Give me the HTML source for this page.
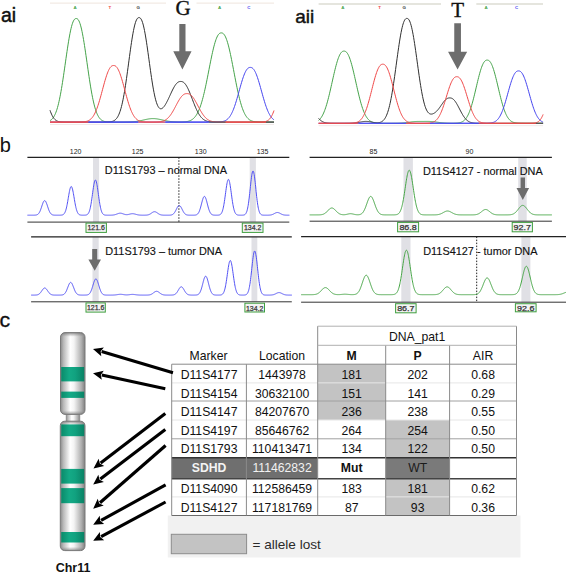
<!DOCTYPE html>
<html><head><meta charset="utf-8"><style>
html,body{margin:0;padding:0;background:#fff;}
svg{display:block;}
</style></head><body>
<svg width="566" height="573" viewBox="0 0 566 573">
<line x1="50" y1="3.1" x2="166" y2="3.1" stroke="#efe5dd" stroke-width="1"/>
<line x1="196.5" y1="3.1" x2="274" y2="3.1" stroke="#efe5dd" stroke-width="1"/>
<text x="75.1" y="8.6" font-size="4.4" font-weight="bold" fill="#45a34a" text-anchor="middle" font-family='"Liberation Sans", sans-serif'>A</text>
<text x="109.8" y="8.6" font-size="4.4" font-weight="bold" fill="#f04848" text-anchor="middle" font-family='"Liberation Sans", sans-serif'>T</text>
<text x="138.2" y="8.6" font-size="4.4" font-weight="bold" fill="#303030" text-anchor="middle" font-family='"Liberation Sans", sans-serif'>G</text>
<text x="219.7" y="8.6" font-size="4.4" font-weight="bold" fill="#45a34a" text-anchor="middle" font-family='"Liberation Sans", sans-serif'>A</text>
<text x="248.9" y="8.6" font-size="4.4" font-weight="bold" fill="#4444f0" text-anchor="middle" font-family='"Liberation Sans", sans-serif'>C</text>
<line x1="50" y1="124.5" x2="274" y2="124.5" stroke="#f1e9e9" stroke-width="1"/>
<path d="M50.0,120.63 L50.5,120.34 L51.0,119.99 L51.5,119.58 L52.0,119.11 L52.5,118.57 L53.0,117.96 L53.5,117.25 L54.0,116.45 L54.5,115.54 L55.0,114.53 L55.5,113.39 L56.0,112.13 L56.5,110.73 L57.0,109.19 L57.5,107.51 L58.0,105.68 L58.5,103.69 L59.0,101.54 L59.5,99.24 L60.0,96.78 L60.5,94.18 L61.0,91.42 L61.5,88.53 L62.0,85.51 L62.5,82.37 L63.0,79.12 L63.5,75.78 L64.0,72.37 L64.5,68.91 L65.0,65.41 L65.5,61.90 L66.0,58.39 L66.5,54.92 L67.0,51.50 L67.5,48.16 L68.0,44.92 L68.5,41.79 L69.0,38.81 L69.5,35.99 L70.0,33.35 L70.5,30.90 L71.0,28.66 L71.5,26.64 L72.0,24.84 L72.5,23.28 L73.0,21.94 L73.5,20.84 L74.0,19.97 L74.5,19.31 L75.0,18.87 L75.5,18.61 L76.0,18.51 L76.5,18.52 L77.0,18.64 L77.5,18.94 L78.0,19.43 L78.5,20.13 L79.0,21.04 L79.5,22.19 L80.0,23.57 L80.5,25.18 L81.0,27.03 L81.5,29.09 L82.0,31.38 L82.5,33.86 L83.0,36.54 L83.5,39.40 L84.0,42.41 L84.5,45.55 L85.0,48.82 L85.5,52.18 L86.0,55.61 L86.5,59.09 L87.0,62.60 L87.5,66.11 L88.0,69.61 L88.5,73.06 L89.0,76.46 L89.5,79.78 L90.0,83.00 L90.5,86.12 L91.0,89.12 L91.5,91.99 L92.0,94.71 L92.5,97.29 L93.0,99.71 L93.5,101.98 L94.0,104.10 L94.5,106.05 L95.0,107.86 L95.5,109.51 L96.0,111.02 L96.5,112.39 L97.0,113.63 L97.5,114.74 L98.0,115.73 L98.5,116.62 L99.0,117.40 L99.5,118.09 L100.0,118.69 L100.5,119.21 L101.0,119.67 L101.5,120.06 L102.0,120.40 L102.5,120.69 L103.0,120.93 L103.5,121.14 L104.0,121.31 L104.5,121.46 L105.0,121.58 L105.5,121.68 L106.0,121.76 L106.5,121.83 L107.0,121.88 L107.5,121.93 L108.0,121.97 L108.5,121.99 L109.0,122.02 L109.5,122.04 L110.0,122.05 L110.5,122.06 L111.0,122.07 L111.5,122.08 L112.0,122.08 L112.5,122.09 L113.0,122.09 L113.5,122.09 L114.0,122.09 L114.5,122.10 L115.0,122.10 L115.5,122.10 L116.0,122.10 L116.5,122.10 L117.0,122.10 L117.5,122.10 L118.0,122.10 L118.5,122.10 L119.0,122.10 L119.5,122.09 L120.0,122.09 L120.5,122.09 L121.0,122.09 L121.5,122.09 L122.0,122.09 L122.5,122.08 L123.0,122.08 L123.5,122.08 L124.0,122.07 L124.5,122.07 L125.0,122.06 L125.5,122.05 L126.0,122.05 L126.5,122.04 L127.0,122.03 L127.5,122.02 L128.0,122.00 L128.5,121.99 L129.0,121.97 L129.5,121.95 L130.0,121.93 L130.5,121.91 L131.0,121.88 L131.5,121.85 L132.0,121.82 L132.5,121.78 L133.0,121.75 L133.5,121.70 L134.0,121.66 L134.5,121.61 L135.0,121.55 L135.5,121.49 L136.0,121.43 L136.5,121.36 L137.0,121.29 L137.5,121.22 L138.0,121.14 L138.5,121.05 L139.0,120.96 L139.5,120.87 L140.0,120.77 L140.5,120.67 L141.0,120.57 L141.5,120.46 L142.0,120.35 L142.5,120.24 L143.0,120.13 L143.5,120.01 L144.0,119.90 L144.5,119.79 L145.0,119.67 L145.5,119.56 L146.0,119.46 L146.5,119.35 L147.0,119.25 L147.5,119.16 L148.0,119.07 L148.5,118.98 L149.0,118.91 L149.5,118.84 L150.0,118.78 L150.5,118.72 L151.0,118.68 L151.5,118.64 L152.0,118.62 L152.5,118.61 L153.0,118.60 L153.5,118.61 L154.0,118.62 L154.5,118.64 L155.0,118.68 L155.5,118.72 L156.0,118.78 L156.5,118.84 L157.0,118.91 L157.5,118.98 L158.0,119.07 L158.5,119.16 L159.0,119.25 L159.5,119.35 L160.0,119.46 L160.5,119.56 L161.0,119.67 L161.5,119.79 L162.0,119.90 L162.5,120.01 L163.0,120.13 L163.5,120.24 L164.0,120.35 L164.5,120.46 L165.0,120.57 L165.5,120.67 L166.0,120.77 L166.5,120.87 L167.0,120.96 L167.5,121.05 L168.0,121.14 L168.5,121.22 L169.0,121.29 L169.5,121.36 L170.0,121.43 L170.5,121.49 L171.0,121.55 L171.5,121.61 L172.0,121.66 L172.5,121.70 L173.0,121.75 L173.5,121.78 L174.0,121.82 L174.5,121.85 L175.0,121.88 L175.5,121.90 L176.0,121.93 L176.5,121.95 L177.0,121.96 L177.5,121.98 L178.0,121.99 L178.5,122.00 L179.0,122.01 L179.5,122.01 L180.0,122.01 L180.5,122.01 L181.0,122.01 L181.5,122.00 L182.0,121.99 L182.5,121.97 L183.0,121.95 L183.5,121.93 L184.0,121.90 L184.5,121.86 L185.0,121.82 L185.5,121.77 L186.0,121.70 L186.5,121.63 L187.0,121.55 L187.5,121.45 L188.0,121.34 L188.5,121.20 L189.0,121.06 L189.5,120.89 L190.0,120.69 L190.5,120.47 L191.0,120.23 L191.5,119.95 L192.0,119.64 L192.5,119.29 L193.0,118.90 L193.5,118.47 L194.0,117.99 L194.5,117.47 L195.0,116.89 L195.5,116.25 L196.0,115.55 L196.5,114.79 L197.0,113.96 L197.5,113.05 L198.0,112.07 L198.5,111.01 L199.0,109.87 L199.5,108.64 L200.0,107.33 L200.5,105.92 L201.0,104.42 L201.5,102.83 L202.0,101.15 L202.5,99.37 L203.0,97.50 L203.5,95.54 L204.0,93.49 L204.5,91.36 L205.0,89.15 L205.5,86.87 L206.0,84.52 L206.5,82.11 L207.0,79.65 L207.5,77.15 L208.0,74.62 L208.5,72.06 L209.0,69.50 L209.5,66.94 L210.0,64.40 L210.5,61.89 L211.0,59.41 L211.5,57.00 L212.0,54.64 L212.5,52.37 L213.0,50.18 L213.5,48.09 L214.0,46.12 L214.5,44.27 L215.0,42.54 L215.5,40.95 L216.0,39.49 L216.5,38.19 L217.0,37.03 L217.5,36.02 L218.0,35.16 L218.5,34.45 L219.0,33.88 L219.5,33.45 L220.0,33.15 L220.5,32.97 L221.0,32.90 L221.5,32.89 L222.0,32.96 L222.5,33.12 L223.0,33.40 L223.5,33.81 L224.0,34.36 L224.5,35.05 L225.0,35.89 L225.5,36.88 L226.0,38.02 L226.5,39.32 L227.0,40.76 L227.5,42.34 L228.0,44.07 L228.5,45.92 L229.0,47.91 L229.5,50.00 L230.0,52.21 L230.5,54.51 L231.0,56.89 L231.5,59.35 L232.0,61.86 L232.5,64.43 L233.0,67.02 L233.5,69.64 L234.0,72.27 L234.5,74.89 L235.0,77.50 L235.5,80.08 L236.0,82.62 L236.5,85.11 L237.0,87.54 L237.5,89.91 L238.0,92.20 L238.5,94.41 L239.0,96.53 L239.5,98.56 L240.0,100.49 L240.5,102.33 L241.0,104.06 L241.5,105.69 L242.0,107.22 L242.5,108.65 L243.0,109.98 L243.5,111.22 L244.0,112.36 L244.5,113.40 L245.0,114.36 L245.5,115.24 L246.0,116.04 L246.5,116.76 L247.0,117.41 L247.5,118.00 L248.0,118.52 L248.5,118.99 L249.0,119.41 L249.5,119.77 L250.0,120.10 L250.5,120.38 L251.0,120.63 L251.5,120.85 L252.0,121.04 L252.5,121.20 L253.0,121.35 L253.5,121.47 L254.0,121.57 L254.5,121.66 L255.0,121.73 L255.5,121.80 L256.0,121.85 L256.5,121.89 L257.0,121.93 L257.5,121.96 L258.0,121.99 L258.5,122.01 L259.0,122.03 L259.5,122.04 L260.0,122.05 L260.5,122.06 L261.0,122.07 L261.5,122.08 L262.0,122.08 L262.5,122.09 L263.0,122.09 L263.5,122.09 L264.0,122.09 L264.5,122.09 L265.0,122.10 L265.5,122.10 L266.0,122.10 L266.5,122.10 L267.0,122.10 L267.5,122.10 L268.0,122.10 L268.5,122.10 L269.0,122.10 L269.5,122.10 L270.0,122.10 L270.5,122.10 L271.0,122.10 L271.5,122.10 L272.0,122.10 L272.5,122.10 L273.0,122.10 L273.5,122.10 L274.0,122.10" fill="none" stroke="#45a34a" stroke-width="1"/>
<path d="M50.0,110.26 L50.5,111.66 L51.0,112.96 L51.5,114.14 L52.0,115.22 L52.5,116.18 L53.0,117.04 L53.5,117.80 L54.0,118.47 L54.5,119.06 L55.0,119.56 L55.5,120.00 L56.0,120.37 L56.5,120.68 L57.0,120.95 L57.5,121.17 L58.0,121.35 L58.5,121.50 L59.0,121.63 L59.5,121.73 L60.0,121.81 L60.5,121.87 L61.0,121.92 L61.5,121.96 L62.0,122.00 L62.5,122.02 L63.0,122.04 L63.5,122.06 L64.0,122.07 L64.5,122.08 L65.0,122.08 L65.5,122.09 L66.0,122.09 L66.5,122.09 L67.0,122.09 L67.5,122.10 L68.0,122.10 L68.5,122.10 L69.0,122.10 L69.5,122.10 L70.0,122.10 L70.5,122.10 L71.0,122.10 L71.5,122.10 L72.0,122.10 L72.5,122.10 L73.0,122.10 L73.5,122.10 L74.0,122.10 L74.5,122.10 L75.0,122.10 L75.5,122.10 L76.0,122.10 L76.5,122.10 L77.0,122.10 L77.5,122.10 L78.0,122.10 L78.5,122.10 L79.0,122.10 L79.5,122.10 L80.0,122.10 L80.5,122.10 L81.0,122.10 L81.5,122.10 L82.0,122.10 L82.5,122.10 L83.0,122.10 L83.5,122.10 L84.0,122.10 L84.5,122.10 L85.0,122.10 L85.5,122.10 L86.0,122.10 L86.5,122.10 L87.0,122.10 L87.5,122.10 L88.0,122.10 L88.5,122.10 L89.0,122.10 L89.5,122.10 L90.0,122.10 L90.5,122.10 L91.0,122.10 L91.5,122.10 L92.0,122.10 L92.5,122.10 L93.0,122.10 L93.5,122.10 L94.0,122.10 L94.5,122.10 L95.0,122.10 L95.5,122.10 L96.0,122.10 L96.5,122.10 L97.0,122.10 L97.5,122.10 L98.0,122.10 L98.5,122.10 L99.0,122.10 L99.5,122.10 L100.0,122.10 L100.5,122.10 L101.0,122.10 L101.5,122.10 L102.0,122.10 L102.5,122.10 L103.0,122.10 L103.5,122.09 L104.0,122.09 L104.5,122.09 L105.0,122.08 L105.5,122.08 L106.0,122.07 L106.5,122.06 L107.0,122.05 L107.5,122.03 L108.0,122.01 L108.5,121.98 L109.0,121.95 L109.5,121.91 L110.0,121.86 L110.5,121.79 L111.0,121.71 L111.5,121.61 L112.0,121.49 L112.5,121.34 L113.0,121.16 L113.5,120.95 L114.0,120.69 L114.5,120.39 L115.0,120.03 L115.5,119.60 L116.0,119.11 L116.5,118.54 L117.0,117.88 L117.5,117.12 L118.0,116.25 L118.5,115.27 L119.0,114.16 L119.5,112.91 L120.0,111.52 L120.5,109.98 L121.0,108.27 L121.5,106.40 L122.0,104.36 L122.5,102.14 L123.0,99.75 L123.5,97.19 L124.0,94.45 L124.5,91.55 L125.0,88.50 L125.5,85.29 L126.0,81.96 L126.5,78.51 L127.0,74.95 L127.5,71.32 L128.0,67.63 L128.5,63.91 L129.0,60.18 L129.5,56.46 L130.0,52.80 L130.5,49.20 L131.0,45.70 L131.5,42.33 L132.0,39.10 L132.5,36.05 L133.0,33.20 L133.5,30.55 L134.0,28.13 L134.5,25.96 L135.0,24.04 L135.5,22.38 L136.0,20.97 L136.5,19.83 L137.0,18.94 L137.5,18.29 L138.0,17.87 L138.5,17.65 L139.0,17.60 L139.5,17.65 L140.0,17.87 L140.5,18.29 L141.0,18.94 L141.5,19.82 L142.0,20.96 L142.5,22.36 L143.0,24.02 L143.5,25.94 L144.0,28.10 L144.5,30.51 L145.0,33.14 L145.5,35.98 L146.0,39.01 L146.5,42.21 L147.0,45.56 L147.5,49.02 L148.0,52.57 L148.5,56.18 L149.0,59.83 L149.5,63.49 L150.0,67.12 L150.5,70.70 L151.0,74.21 L151.5,77.62 L152.0,80.91 L152.5,84.06 L153.0,87.05 L153.5,89.87 L154.0,92.51 L154.5,94.94 L155.0,97.18 L155.5,99.21 L156.0,101.04 L156.5,102.65 L157.0,104.06 L157.5,105.27 L158.0,106.29 L158.5,107.12 L159.0,107.76 L159.5,108.25 L160.0,108.57 L160.5,108.74 L161.0,108.77 L161.5,108.68 L162.0,108.46 L162.5,108.14 L163.0,107.72 L163.5,107.20 L164.0,106.61 L164.5,105.94 L165.0,105.19 L165.5,104.39 L166.0,103.53 L166.5,102.63 L167.0,101.67 L167.5,100.68 L168.0,99.66 L168.5,98.61 L169.0,97.54 L169.5,96.46 L170.0,95.37 L170.5,94.27 L171.0,93.19 L171.5,92.11 L172.0,91.06 L172.5,90.03 L173.0,89.04 L173.5,88.09 L174.0,87.18 L174.5,86.33 L175.0,85.54 L175.5,84.81 L176.0,84.15 L176.5,83.56 L177.0,83.04 L177.5,82.60 L178.0,82.23 L178.5,81.94 L179.0,81.72 L179.5,81.57 L180.0,81.49 L180.5,81.46 L181.0,81.46 L181.5,81.51 L182.0,81.61 L182.5,81.77 L183.0,82.00 L183.5,82.31 L184.0,82.70 L184.5,83.17 L185.0,83.72 L185.5,84.36 L186.0,85.07 L186.5,85.87 L187.0,86.74 L187.5,87.68 L188.0,88.69 L188.5,89.76 L189.0,90.88 L189.5,92.06 L190.0,93.27 L190.5,94.52 L191.0,95.80 L191.5,97.10 L192.0,98.40 L192.5,99.71 L193.0,101.02 L193.5,102.32 L194.0,103.59 L194.5,104.85 L195.0,106.07 L195.5,107.26 L196.0,108.41 L196.5,109.51 L197.0,110.57 L197.5,111.57 L198.0,112.52 L198.5,113.42 L199.0,114.26 L199.5,115.05 L200.0,115.78 L200.5,116.46 L201.0,117.08 L201.5,117.65 L202.0,118.17 L202.5,118.65 L203.0,119.08 L203.5,119.46 L204.0,119.81 L204.5,120.12 L205.0,120.39 L205.5,120.63 L206.0,120.84 L206.5,121.03 L207.0,121.19 L207.5,121.33 L208.0,121.46 L208.5,121.56 L209.0,121.65 L209.5,121.73 L210.0,121.79 L210.5,121.85 L211.0,121.89 L211.5,121.93 L212.0,121.96 L212.5,121.99 L213.0,122.01 L213.5,122.03 L214.0,122.04 L214.5,122.05 L215.0,122.06 L215.5,122.07 L216.0,122.08 L216.5,122.08 L217.0,122.09 L217.5,122.09 L218.0,122.09 L218.5,122.09 L219.0,122.10 L219.5,122.10 L220.0,122.10 L220.5,122.10 L221.0,122.10 L221.5,122.10 L222.0,122.10 L222.5,122.10 L223.0,122.10 L223.5,122.10 L224.0,122.10 L224.5,122.10 L225.0,122.10 L225.5,122.10 L226.0,122.10 L226.5,122.10 L227.0,122.10 L227.5,122.10 L228.0,122.10 L228.5,122.10 L229.0,122.10 L229.5,122.10 L230.0,122.10 L230.5,122.10 L231.0,122.10 L231.5,122.10 L232.0,122.10 L232.5,122.10 L233.0,122.10 L233.5,122.10 L234.0,122.10 L234.5,122.10 L235.0,122.10 L235.5,122.10 L236.0,122.10 L236.5,122.10 L237.0,122.10 L237.5,122.10 L238.0,122.10 L238.5,122.10 L239.0,122.10 L239.5,122.10 L240.0,122.10 L240.5,122.10 L241.0,122.10 L241.5,122.10 L242.0,122.10 L242.5,122.10 L243.0,122.10 L243.5,122.10 L244.0,122.10 L244.5,122.10 L245.0,122.10 L245.5,122.10 L246.0,122.10 L246.5,122.10 L247.0,122.10 L247.5,122.10 L248.0,122.10 L248.5,122.10 L249.0,122.10 L249.5,122.10 L250.0,122.10 L250.5,122.10 L251.0,122.10 L251.5,122.10 L252.0,122.10 L252.5,122.10 L253.0,122.10 L253.5,122.10 L254.0,122.10 L254.5,122.10 L255.0,122.10 L255.5,122.10 L256.0,122.10 L256.5,122.10 L257.0,122.10 L257.5,122.10 L258.0,122.10 L258.5,122.10 L259.0,122.10 L259.5,122.10 L260.0,122.10 L260.5,122.10 L261.0,122.10 L261.5,122.10 L262.0,122.10 L262.5,122.10 L263.0,122.10 L263.5,122.10 L264.0,122.10 L264.5,122.10 L265.0,122.10 L265.5,122.10 L266.0,122.10 L266.5,122.10 L267.0,122.10 L267.5,122.10 L268.0,122.10 L268.5,122.10 L269.0,122.10 L269.5,122.10 L270.0,122.10 L270.5,122.10 L271.0,122.10 L271.5,122.10 L272.0,122.10 L272.5,122.10 L273.0,122.10 L273.5,122.10 L274.0,122.10" fill="none" stroke="#303030" stroke-width="1"/>
<path d="M50.0,122.10 L50.5,122.10 L51.0,122.10 L51.5,122.10 L52.0,122.10 L52.5,122.10 L53.0,122.10 L53.5,122.10 L54.0,122.10 L54.5,122.10 L55.0,122.10 L55.5,122.10 L56.0,122.10 L56.5,122.10 L57.0,122.10 L57.5,122.10 L58.0,122.10 L58.5,122.10 L59.0,122.10 L59.5,122.10 L60.0,122.10 L60.5,122.10 L61.0,122.10 L61.5,122.10 L62.0,122.10 L62.5,122.10 L63.0,122.10 L63.5,122.10 L64.0,122.10 L64.5,122.10 L65.0,122.10 L65.5,122.10 L66.0,122.10 L66.5,122.10 L67.0,122.10 L67.5,122.10 L68.0,122.10 L68.5,122.10 L69.0,122.10 L69.5,122.10 L70.0,122.10 L70.5,122.10 L71.0,122.10 L71.5,122.10 L72.0,122.10 L72.5,122.10 L73.0,122.10 L73.5,122.10 L74.0,122.10 L74.5,122.10 L75.0,122.10 L75.5,122.10 L76.0,122.10 L76.5,122.10 L77.0,122.10 L77.5,122.10 L78.0,122.10 L78.5,122.10 L79.0,122.10 L79.5,122.10 L80.0,122.10 L80.5,122.10 L81.0,122.10 L81.5,122.10 L82.0,122.10 L82.5,122.10 L83.0,122.10 L83.5,122.10 L84.0,122.10 L84.5,122.10 L85.0,122.10 L85.5,122.10 L86.0,122.10 L86.5,122.10 L87.0,122.10 L87.5,122.10 L88.0,122.10 L88.5,122.10 L89.0,122.10 L89.5,122.10 L90.0,122.10 L90.5,122.10 L91.0,122.10 L91.5,122.10 L92.0,122.10 L92.5,122.10 L93.0,122.10 L93.5,122.10 L94.0,122.10 L94.5,122.10 L95.0,122.10 L95.5,122.10 L96.0,122.10 L96.5,122.10 L97.0,122.10 L97.5,122.10 L98.0,122.10 L98.5,122.10 L99.0,122.10 L99.5,122.10 L100.0,122.10 L100.5,122.10 L101.0,122.10 L101.5,122.10 L102.0,122.10 L102.5,122.10 L103.0,122.10 L103.5,122.10 L104.0,122.10 L104.5,122.10 L105.0,122.10 L105.5,122.10 L106.0,122.10 L106.5,122.10 L107.0,122.10 L107.5,122.10 L108.0,122.10 L108.5,122.10 L109.0,122.10 L109.5,122.10 L110.0,122.10 L110.5,122.10 L111.0,122.10 L111.5,122.10 L112.0,122.10 L112.5,122.10 L113.0,122.10 L113.5,122.10 L114.0,122.10 L114.5,122.10 L115.0,122.10 L115.5,122.10 L116.0,122.10 L116.5,122.10 L117.0,122.10 L117.5,122.10 L118.0,122.10 L118.5,122.10 L119.0,122.10 L119.5,122.10 L120.0,122.10 L120.5,122.10 L121.0,122.10 L121.5,122.10 L122.0,122.10 L122.5,122.10 L123.0,122.10 L123.5,122.10 L124.0,122.10 L124.5,122.10 L125.0,122.10 L125.5,122.10 L126.0,122.10 L126.5,122.10 L127.0,122.10 L127.5,122.10 L128.0,122.10 L128.5,122.10 L129.0,122.10 L129.5,122.10 L130.0,122.10 L130.5,122.10 L131.0,122.10 L131.5,122.10 L132.0,122.10 L132.5,122.10 L133.0,122.10 L133.5,122.10 L134.0,122.10 L134.5,122.10 L135.0,122.10 L135.5,122.10 L136.0,122.10 L136.5,122.10 L137.0,122.10 L137.5,122.10 L138.0,122.10 L138.5,122.10 L139.0,122.10 L139.5,122.10 L140.0,122.10 L140.5,122.10 L141.0,122.10 L141.5,122.10 L142.0,122.10 L142.5,122.10 L143.0,122.10 L143.5,122.10 L144.0,122.10 L144.5,122.10 L145.0,122.10 L145.5,122.10 L146.0,122.10 L146.5,122.10 L147.0,122.10 L147.5,122.10 L148.0,122.10 L148.5,122.10 L149.0,122.10 L149.5,122.10 L150.0,122.10 L150.5,122.10 L151.0,122.10 L151.5,122.10 L152.0,122.10 L152.5,122.10 L153.0,122.10 L153.5,122.10 L154.0,122.10 L154.5,122.10 L155.0,122.10 L155.5,122.10 L156.0,122.10 L156.5,122.10 L157.0,122.10 L157.5,122.10 L158.0,122.10 L158.5,122.10 L159.0,122.10 L159.5,122.10 L160.0,122.10 L160.5,122.10 L161.0,122.10 L161.5,122.10 L162.0,122.10 L162.5,122.10 L163.0,122.10 L163.5,122.10 L164.0,122.10 L164.5,122.10 L165.0,122.10 L165.5,122.10 L166.0,122.10 L166.5,122.10 L167.0,122.10 L167.5,122.10 L168.0,122.10 L168.5,122.10 L169.0,122.10 L169.5,122.10 L170.0,122.10 L170.5,122.10 L171.0,122.10 L171.5,122.10 L172.0,122.10 L172.5,122.10 L173.0,122.10 L173.5,122.10 L174.0,122.10 L174.5,122.10 L175.0,122.10 L175.5,122.10 L176.0,122.10 L176.5,122.10 L177.0,122.10 L177.5,122.10 L178.0,122.10 L178.5,122.10 L179.0,122.10 L179.5,122.10 L180.0,122.10 L180.5,122.10 L181.0,122.10 L181.5,122.10 L182.0,122.10 L182.5,122.10 L183.0,122.10 L183.5,122.10 L184.0,122.10 L184.5,122.10 L185.0,122.10 L185.5,122.10 L186.0,122.10 L186.5,122.10 L187.0,122.10 L187.5,122.10 L188.0,122.10 L188.5,122.10 L189.0,122.10 L189.5,122.10 L190.0,122.10 L190.5,122.10 L191.0,122.10 L191.5,122.10 L192.0,122.10 L192.5,122.10 L193.0,122.10 L193.5,122.10 L194.0,122.10 L194.5,122.10 L195.0,122.10 L195.5,122.10 L196.0,122.10 L196.5,122.10 L197.0,122.10 L197.5,122.10 L198.0,122.10 L198.5,122.10 L199.0,122.10 L199.5,122.10 L200.0,122.10 L200.5,122.10 L201.0,122.10 L201.5,122.10 L202.0,122.10 L202.5,122.10 L203.0,122.10 L203.5,122.10 L204.0,122.10 L204.5,122.10 L205.0,122.10 L205.5,122.10 L206.0,122.10 L206.5,122.10 L207.0,122.10 L207.5,122.10 L208.0,122.10 L208.5,122.10 L209.0,122.10 L209.5,122.10 L210.0,122.10 L210.5,122.10 L211.0,122.10 L211.5,122.10 L212.0,122.10 L212.5,122.10 L213.0,122.09 L213.5,122.09 L214.0,122.09 L214.5,122.09 L215.0,122.08 L215.5,122.08 L216.0,122.07 L216.5,122.06 L217.0,122.05 L217.5,122.04 L218.0,122.02 L218.5,122.00 L219.0,121.97 L219.5,121.94 L220.0,121.90 L220.5,121.85 L221.0,121.80 L221.5,121.73 L222.0,121.65 L222.5,121.55 L223.0,121.44 L223.5,121.31 L224.0,121.15 L224.5,120.97 L225.0,120.76 L225.5,120.52 L226.0,120.24 L226.5,119.92 L227.0,119.56 L227.5,119.15 L228.0,118.69 L228.5,118.17 L229.0,117.60 L229.5,116.96 L230.0,116.25 L230.5,115.48 L231.0,114.63 L231.5,113.70 L232.0,112.70 L232.5,111.62 L233.0,110.46 L233.5,109.23 L234.0,107.91 L234.5,106.53 L235.0,105.07 L235.5,103.54 L236.0,101.95 L236.5,100.31 L237.0,98.61 L237.5,96.88 L238.0,95.11 L238.5,93.31 L239.0,91.51 L239.5,89.70 L240.0,87.90 L240.5,86.12 L241.0,84.37 L241.5,82.66 L242.0,81.00 L242.5,79.40 L243.0,77.88 L243.5,76.44 L244.0,75.09 L244.5,73.84 L245.0,72.70 L245.5,71.66 L246.0,70.74 L246.5,69.93 L247.0,69.24 L247.5,68.67 L248.0,68.21 L248.5,67.86 L249.0,67.62 L249.5,67.47 L250.0,67.41 L250.5,67.40 L251.0,67.45 L251.5,67.58 L252.0,67.81 L252.5,68.13 L253.0,68.57 L253.5,69.12 L254.0,69.78 L254.5,70.57 L255.0,71.47 L255.5,72.48 L256.0,73.61 L256.5,74.84 L257.0,76.17 L257.5,77.59 L258.0,79.09 L258.5,80.67 L259.0,82.32 L259.5,84.02 L260.0,85.76 L260.5,87.54 L261.0,89.34 L261.5,91.15 L262.0,92.95 L262.5,94.75 L263.0,96.52 L263.5,98.27 L264.0,99.97 L264.5,101.63 L265.0,103.23 L265.5,104.77 L266.0,106.24 L266.5,107.64 L267.0,108.97 L267.5,110.22 L268.0,111.40 L268.5,112.49 L269.0,113.51 L269.5,114.45 L270.0,115.31 L270.5,116.10 L271.0,116.82 L271.5,117.48 L272.0,118.06 L272.5,118.59 L273.0,119.06 L273.5,119.48 L274.0,119.85" fill="none" stroke="#4444f0" stroke-width="1"/>
<path d="M50.0,122.10 L50.5,122.10 L51.0,122.10 L51.5,122.10 L52.0,122.10 L52.5,122.10 L53.0,122.10 L53.5,122.10 L54.0,122.10 L54.5,122.10 L55.0,122.10 L55.5,122.10 L56.0,122.10 L56.5,122.10 L57.0,122.10 L57.5,122.10 L58.0,122.10 L58.5,122.10 L59.0,122.10 L59.5,122.10 L60.0,122.10 L60.5,122.10 L61.0,122.10 L61.5,122.10 L62.0,122.10 L62.5,122.10 L63.0,122.10 L63.5,122.10 L64.0,122.10 L64.5,122.10 L65.0,122.10 L65.5,122.10 L66.0,122.10 L66.5,122.10 L67.0,122.10 L67.5,122.10 L68.0,122.10 L68.5,122.10 L69.0,122.10 L69.5,122.10 L70.0,122.10 L70.5,122.10 L71.0,122.10 L71.5,122.10 L72.0,122.10 L72.5,122.10 L73.0,122.10 L73.5,122.10 L74.0,122.10 L74.5,122.10 L75.0,122.10 L75.5,122.10 L76.0,122.09 L76.5,122.09 L77.0,122.09 L77.5,122.09 L78.0,122.08 L78.5,122.08 L79.0,122.07 L79.5,122.06 L80.0,122.05 L80.5,122.04 L81.0,122.03 L81.5,122.01 L82.0,121.98 L82.5,121.95 L83.0,121.92 L83.5,121.88 L84.0,121.82 L84.5,121.76 L85.0,121.69 L85.5,121.60 L86.0,121.49 L86.5,121.37 L87.0,121.22 L87.5,121.05 L88.0,120.85 L88.5,120.62 L89.0,120.35 L89.5,120.05 L90.0,119.70 L90.5,119.31 L91.0,118.86 L91.5,118.37 L92.0,117.81 L92.5,117.18 L93.0,116.50 L93.5,115.74 L94.0,114.90 L94.5,113.99 L95.0,113.01 L95.5,111.94 L96.0,110.79 L96.5,109.56 L97.0,108.25 L97.5,106.86 L98.0,105.39 L98.5,103.85 L99.0,102.25 L99.5,100.58 L100.0,98.85 L100.5,97.08 L101.0,95.27 L101.5,93.43 L102.0,91.57 L102.5,89.70 L103.0,87.83 L103.5,85.97 L104.0,84.14 L104.5,82.34 L105.0,80.59 L105.5,78.90 L106.0,77.28 L106.5,75.74 L107.0,74.29 L107.5,72.93 L108.0,71.68 L108.5,70.54 L109.0,69.51 L109.5,68.61 L110.0,67.82 L110.5,67.15 L111.0,66.61 L111.5,66.18 L112.0,65.87 L112.5,65.65 L113.0,65.54 L113.5,65.50 L114.0,65.52 L114.5,65.60 L115.0,65.77 L115.5,66.04 L116.0,66.42 L116.5,66.92 L117.0,67.54 L117.5,68.28 L118.0,69.14 L118.5,70.11 L119.0,71.21 L119.5,72.42 L120.0,73.73 L120.5,75.15 L121.0,76.65 L121.5,78.24 L122.0,79.91 L122.5,81.64 L123.0,83.41 L123.5,85.23 L124.0,87.08 L124.5,88.95 L125.0,90.82 L125.5,92.69 L126.0,94.54 L126.5,96.36 L127.0,98.15 L127.5,99.89 L128.0,101.59 L128.5,103.22 L129.0,104.78 L129.5,106.28 L130.0,107.70 L130.5,109.04 L131.0,110.31 L131.5,111.49 L132.0,112.59 L132.5,113.61 L133.0,114.55 L133.5,115.41 L134.0,116.20 L134.5,116.92 L135.0,117.57 L135.5,118.15 L136.0,118.67 L136.5,119.14 L137.0,119.55 L137.5,119.92 L138.0,120.24 L138.5,120.52 L139.0,120.76 L139.5,120.97 L140.0,121.15 L140.5,121.31 L141.0,121.44 L141.5,121.56 L142.0,121.65 L142.5,121.73 L143.0,121.80 L143.5,121.86 L144.0,121.90 L144.5,121.94 L145.0,121.97 L145.5,122.00 L146.0,122.02 L146.5,122.04 L147.0,122.05 L147.5,122.06 L148.0,122.07 L148.5,122.07 L149.0,122.08 L149.5,122.08 L150.0,122.09 L150.5,122.09 L151.0,122.09 L151.5,122.09 L152.0,122.09 L152.5,122.08 L153.0,122.08 L153.5,122.08 L154.0,122.07 L154.5,122.06 L155.0,122.05 L155.5,122.04 L156.0,122.03 L156.5,122.01 L157.0,121.99 L157.5,121.96 L158.0,121.93 L158.5,121.89 L159.0,121.85 L159.5,121.80 L160.0,121.73 L160.5,121.66 L161.0,121.57 L161.5,121.47 L162.0,121.36 L162.5,121.22 L163.0,121.07 L163.5,120.89 L164.0,120.69 L164.5,120.46 L165.0,120.21 L165.5,119.92 L166.0,119.61 L166.5,119.26 L167.0,118.87 L167.5,118.44 L168.0,117.98 L168.5,117.47 L169.0,116.92 L169.5,116.34 L170.0,115.71 L170.5,115.04 L171.0,114.33 L171.5,113.58 L172.0,112.79 L172.5,111.97 L173.0,111.12 L173.5,110.24 L174.0,109.33 L174.5,108.41 L175.0,107.47 L175.5,106.53 L176.0,105.58 L176.5,104.63 L177.0,103.69 L177.5,102.76 L178.0,101.85 L178.5,100.97 L179.0,100.12 L179.5,99.31 L180.0,98.54 L180.5,97.82 L181.0,97.15 L181.5,96.53 L182.0,95.97 L182.5,95.46 L183.0,95.02 L183.5,94.65 L184.0,94.33 L184.5,94.07 L185.0,93.88 L185.5,93.74 L186.0,93.65 L186.5,93.61 L187.0,93.60 L187.5,93.62 L188.0,93.68 L188.5,93.79 L189.0,93.95 L189.5,94.17 L190.0,94.45 L190.5,94.79 L191.0,95.19 L191.5,95.66 L192.0,96.18 L192.5,96.77 L193.0,97.41 L193.5,98.10 L194.0,98.84 L194.5,99.63 L195.0,100.46 L195.5,101.32 L196.0,102.21 L196.5,103.13 L197.0,104.06 L197.5,105.01 L198.0,105.96 L198.5,106.91 L199.0,107.85 L199.5,108.78 L200.0,109.70 L200.5,110.59 L201.0,111.46 L201.5,112.30 L202.0,113.11 L202.5,113.88 L203.0,114.61 L203.5,115.31 L204.0,115.96 L204.5,116.58 L205.0,117.15 L205.5,117.68 L206.0,118.17 L206.5,118.62 L207.0,119.03 L207.5,119.40 L208.0,119.74 L208.5,120.04 L209.0,120.31 L209.5,120.56 L210.0,120.77 L210.5,120.96 L211.0,121.13 L211.5,121.28 L212.0,121.40 L212.5,121.51 L213.0,121.61 L213.5,121.69 L214.0,121.76 L214.5,121.82 L215.0,121.87 L215.5,121.91 L216.0,121.95 L216.5,121.97 L217.0,122.00 L217.5,122.02 L218.0,122.03 L218.5,122.05 L219.0,122.06 L219.5,122.07 L220.0,122.07 L220.5,122.08 L221.0,122.08 L221.5,122.09 L222.0,122.09 L222.5,122.09 L223.0,122.09 L223.5,122.10 L224.0,122.10 L224.5,122.10 L225.0,122.10 L225.5,122.10 L226.0,122.10 L226.5,122.10 L227.0,122.10 L227.5,122.10 L228.0,122.10 L228.5,122.10 L229.0,122.10 L229.5,122.10 L230.0,122.10 L230.5,122.10 L231.0,122.10 L231.5,122.10 L232.0,122.10 L232.5,122.10 L233.0,122.10 L233.5,122.10 L234.0,122.10 L234.5,122.10 L235.0,122.10 L235.5,122.10 L236.0,122.10 L236.5,122.10 L237.0,122.10 L237.5,122.10 L238.0,122.10 L238.5,122.10 L239.0,122.10 L239.5,122.10 L240.0,122.10 L240.5,122.10 L241.0,122.10 L241.5,122.10 L242.0,122.10 L242.5,122.10 L243.0,122.10 L243.5,122.10 L244.0,122.10 L244.5,122.10 L245.0,122.10 L245.5,122.10 L246.0,122.10 L246.5,122.10 L247.0,122.10 L247.5,122.10 L248.0,122.10 L248.5,122.10 L249.0,122.10 L249.5,122.10 L250.0,122.10 L250.5,122.10 L251.0,122.10 L251.5,122.10 L252.0,122.10 L252.5,122.10 L253.0,122.10 L253.5,122.10 L254.0,122.10 L254.5,122.10 L255.0,122.10 L255.5,122.10 L256.0,122.10 L256.5,122.10 L257.0,122.10 L257.5,122.09 L258.0,122.09 L258.5,122.09 L259.0,122.08 L259.5,122.08 L260.0,122.07 L260.5,122.06 L261.0,122.04 L261.5,122.02 L262.0,122.00 L262.5,121.97 L263.0,121.93 L263.5,121.87 L264.0,121.81 L264.5,121.73 L265.0,121.63 L265.5,121.51 L266.0,121.36 L266.5,121.18 L267.0,120.96 L267.5,120.69 L268.0,120.38 L268.5,120.02 L269.0,119.59 L269.5,119.10 L270.0,118.52 L270.5,117.87 L271.0,117.13 L271.5,116.29 L272.0,115.35 L272.5,114.30 L273.0,113.15 L273.5,111.88 L274.0,110.51" fill="none" stroke="#f04848" stroke-width="1"/>
<line x1="50" y1="122.1" x2="88.5" y2="122.1" stroke="#f04848" stroke-width="1.05"/>
<line x1="88.5" y1="122.1" x2="138.3" y2="122.1" stroke="#4444f0" stroke-width="1.05"/>
<line x1="138.3" y1="122.1" x2="165.3" y2="122.1" stroke="#f04848" stroke-width="1.05"/>
<line x1="165.3" y1="122.1" x2="208.8" y2="122.1" stroke="#4444f0" stroke-width="1.05"/>
<line x1="208.8" y1="122.1" x2="225.7" y2="122.1" stroke="#555" stroke-width="1.05"/>
<line x1="225.7" y1="122.1" x2="266" y2="122.1" stroke="#f04848" stroke-width="1.05"/>
<line x1="266" y1="122.1" x2="274" y2="122.1" stroke="#555" stroke-width="1.05"/>
<line x1="318.6" y1="4.0" x2="441" y2="4.0" stroke="#cbcbbd" stroke-width="1"/>
<line x1="476.3" y1="4.0" x2="543" y2="4.0" stroke="#cbcbbd" stroke-width="1"/>
<text x="342.9" y="8.6" font-size="4.4" font-weight="bold" fill="#45a34a" text-anchor="middle" font-family='"Liberation Sans", sans-serif'>A</text>
<text x="379.5" y="8.6" font-size="4.4" font-weight="bold" fill="#f04848" text-anchor="middle" font-family='"Liberation Sans", sans-serif'>T</text>
<text x="404.3" y="8.6" font-size="4.4" font-weight="bold" fill="#303030" text-anchor="middle" font-family='"Liberation Sans", sans-serif'>G</text>
<text x="486.1" y="8.6" font-size="4.4" font-weight="bold" fill="#45a34a" text-anchor="middle" font-family='"Liberation Sans", sans-serif'>A</text>
<text x="516.6" y="8.6" font-size="4.4" font-weight="bold" fill="#4444f0" text-anchor="middle" font-family='"Liberation Sans", sans-serif'>C</text>
<line x1="318.6" y1="125.7" x2="543" y2="125.7" stroke="#f1e9e9" stroke-width="1"/>
<path d="M318.6,120.46 L319.1,120.02 L319.6,119.52 L320.1,118.96 L320.6,118.34 L321.1,117.66 L321.6,116.90 L322.1,116.06 L322.6,115.15 L323.1,114.15 L323.6,113.07 L324.1,111.90 L324.6,110.64 L325.1,109.28 L325.6,107.84 L326.1,106.30 L326.6,104.68 L327.1,102.97 L327.6,101.18 L328.1,99.30 L328.6,97.35 L329.1,95.34 L329.6,93.26 L330.1,91.13 L330.6,88.96 L331.1,86.76 L331.6,84.53 L332.1,82.29 L332.6,80.05 L333.1,77.82 L333.6,75.62 L334.1,73.45 L334.6,71.33 L335.1,69.27 L335.6,67.29 L336.1,65.38 L336.6,63.57 L337.1,61.87 L337.6,60.27 L338.1,58.79 L338.6,57.44 L339.1,56.22 L339.6,55.13 L340.1,54.17 L340.6,53.35 L341.1,52.67 L341.6,52.12 L342.1,51.70 L342.6,51.40 L343.1,51.21 L343.6,51.12 L344.1,51.10 L344.6,51.14 L345.1,51.27 L345.6,51.50 L346.1,51.85 L346.6,52.32 L347.1,52.93 L347.6,53.66 L348.1,54.54 L348.6,55.55 L349.1,56.69 L349.6,57.96 L350.1,59.37 L350.6,60.89 L351.1,62.54 L351.6,64.29 L352.1,66.13 L352.6,68.07 L353.1,70.09 L353.6,72.17 L354.1,74.31 L354.6,76.50 L355.1,78.71 L355.6,80.94 L356.1,83.19 L356.6,85.42 L357.1,87.64 L357.6,89.84 L358.1,91.99 L358.6,94.10 L359.1,96.15 L359.6,98.14 L360.1,100.06 L360.6,101.90 L361.1,103.66 L361.6,105.34 L362.1,106.93 L362.6,108.43 L363.1,109.83 L363.6,111.15 L364.1,112.38 L364.6,113.51 L365.1,114.56 L365.6,115.52 L366.1,116.41 L366.6,117.21 L367.1,117.94 L367.6,118.60 L368.1,119.19 L368.6,119.72 L369.1,120.20 L369.6,120.62 L370.1,120.99 L370.6,121.32 L371.1,121.61 L371.6,121.86 L372.1,122.08 L372.6,122.27 L373.1,122.43 L373.6,122.57 L374.1,122.69 L374.6,122.80 L375.1,122.88 L375.6,122.96 L376.1,123.02 L376.6,123.07 L377.1,123.11 L377.6,123.15 L378.1,123.18 L378.6,123.20 L379.1,123.22 L379.6,123.24 L380.1,123.25 L380.6,123.26 L381.1,123.27 L381.6,123.28 L382.1,123.28 L382.6,123.28 L383.1,123.29 L383.6,123.29 L384.1,123.29 L384.6,123.29 L385.1,123.30 L385.6,123.30 L386.1,123.30 L386.6,123.30 L387.1,123.30 L387.6,123.30 L388.1,123.30 L388.6,123.30 L389.1,123.30 L389.6,123.30 L390.1,123.30 L390.6,123.30 L391.1,123.30 L391.6,123.30 L392.1,123.29 L392.6,123.29 L393.1,123.29 L393.6,123.29 L394.1,123.29 L394.6,123.28 L395.1,123.28 L395.6,123.27 L396.1,123.27 L396.6,123.26 L397.1,123.25 L397.6,123.24 L398.1,123.23 L398.6,123.22 L399.1,123.20 L399.6,123.18 L400.1,123.16 L400.6,123.14 L401.1,123.11 L401.6,123.08 L402.1,123.05 L402.6,123.01 L403.1,122.97 L403.6,122.93 L404.1,122.88 L404.6,122.83 L405.1,122.77 L405.6,122.71 L406.1,122.65 L406.6,122.59 L407.1,122.52 L407.6,122.45 L408.1,122.38 L408.6,122.30 L409.1,122.23 L409.6,122.16 L410.1,122.09 L410.6,122.02 L411.1,121.95 L411.6,121.88 L412.1,121.82 L412.6,121.76 L413.1,121.71 L413.6,121.66 L414.1,121.62 L414.6,121.58 L415.1,121.55 L415.6,121.52 L416.1,121.49 L416.6,121.48 L417.1,121.46 L417.6,121.45 L418.1,121.44 L418.6,121.44 L419.1,121.43 L419.6,121.43 L420.1,121.43 L420.6,121.43 L421.1,121.43 L421.6,121.43 L422.1,121.43 L422.6,121.43 L423.1,121.43 L423.6,121.43 L424.1,121.43 L424.6,121.42 L425.1,121.42 L425.6,121.42 L426.1,121.41 L426.6,121.41 L427.1,121.41 L427.6,121.41 L428.1,121.42 L428.6,121.43 L429.1,121.44 L429.6,121.45 L430.1,121.47 L430.6,121.50 L431.1,121.53 L431.6,121.56 L432.1,121.60 L432.6,121.64 L433.1,121.69 L433.6,121.74 L434.1,121.80 L434.6,121.86 L435.1,121.92 L435.6,121.98 L436.1,122.05 L436.6,122.12 L437.1,122.19 L437.6,122.26 L438.1,122.33 L438.6,122.39 L439.1,122.46 L439.6,122.53 L440.1,122.59 L440.6,122.65 L441.1,122.71 L441.6,122.76 L442.1,122.81 L442.6,122.86 L443.1,122.91 L443.6,122.95 L444.1,122.99 L444.6,123.03 L445.1,123.06 L445.6,123.09 L446.1,123.11 L446.6,123.14 L447.1,123.16 L447.6,123.18 L448.1,123.20 L448.6,123.21 L449.1,123.22 L449.6,123.23 L450.1,123.24 L450.6,123.25 L451.1,123.25 L451.6,123.26 L452.1,123.26 L452.6,123.26 L453.1,123.25 L453.6,123.25 L454.1,123.24 L454.6,123.23 L455.1,123.21 L455.6,123.19 L456.1,123.17 L456.6,123.13 L457.1,123.09 L457.6,123.05 L458.1,122.99 L458.6,122.92 L459.1,122.83 L459.6,122.73 L460.1,122.61 L460.6,122.46 L461.1,122.29 L461.6,122.09 L462.1,121.86 L462.6,121.60 L463.1,121.29 L463.6,120.93 L464.1,120.53 L464.6,120.07 L465.1,119.55 L465.6,118.96 L466.1,118.31 L466.6,117.58 L467.1,116.77 L467.6,115.88 L468.1,114.91 L468.6,113.84 L469.1,112.68 L469.6,111.43 L470.1,110.09 L470.6,108.65 L471.1,107.12 L471.6,105.50 L472.1,103.80 L472.6,102.01 L473.1,100.15 L473.6,98.22 L474.1,96.24 L474.6,94.20 L475.1,92.12 L475.6,90.01 L476.1,87.89 L476.6,85.77 L477.1,83.65 L477.6,81.56 L478.1,79.51 L478.6,77.51 L479.1,75.57 L479.6,73.71 L480.1,71.93 L480.6,70.26 L481.1,68.70 L481.6,67.25 L482.1,65.93 L482.6,64.75 L483.1,63.70 L483.6,62.79 L484.1,62.02 L484.6,61.39 L485.1,60.89 L485.6,60.52 L486.1,60.28 L486.6,60.14 L487.1,60.10 L487.6,60.12 L488.1,60.21 L488.6,60.41 L489.1,60.73 L489.6,61.17 L490.1,61.75 L490.6,62.46 L491.1,63.32 L491.6,64.31 L492.1,65.44 L492.6,66.71 L493.1,68.10 L493.6,69.62 L494.1,71.25 L494.6,72.99 L495.1,74.81 L495.6,76.72 L496.1,78.70 L496.6,80.74 L497.1,82.81 L497.6,84.92 L498.1,87.04 L498.6,89.17 L499.1,91.28 L499.6,93.37 L500.1,95.43 L500.6,97.43 L501.1,99.39 L501.6,101.28 L502.1,103.09 L502.6,104.83 L503.1,106.49 L503.6,108.05 L504.1,109.53 L504.6,110.91 L505.1,112.19 L505.6,113.39 L506.1,114.49 L506.6,115.50 L507.1,116.43 L507.6,117.27 L508.1,118.03 L508.6,118.71 L509.1,119.32 L509.6,119.87 L510.1,120.35 L510.6,120.78 L511.1,121.15 L511.6,121.48 L512.1,121.76 L512.6,122.01 L513.1,122.22 L513.6,122.40 L514.1,122.55 L514.6,122.68 L515.1,122.79 L515.6,122.89 L516.1,122.96 L516.6,123.03 L517.1,123.08 L517.6,123.12 L518.1,123.16 L518.6,123.19 L519.1,123.21 L519.6,123.23 L520.1,123.25 L520.6,123.26 L521.1,123.27 L521.6,123.27 L522.1,123.28 L522.6,123.28 L523.1,123.29 L523.6,123.29 L524.1,123.29 L524.6,123.30 L525.1,123.30 L525.6,123.30 L526.1,123.30 L526.6,123.30 L527.1,123.30 L527.6,123.30 L528.1,123.30 L528.6,123.30 L529.1,123.30 L529.6,123.30 L530.1,123.30 L530.6,123.30 L531.1,123.30 L531.6,123.30 L532.1,123.30 L532.6,123.30 L533.1,123.30 L533.6,123.30 L534.1,123.30 L534.6,123.30 L535.1,123.30 L535.6,123.30 L536.1,123.30 L536.6,123.30 L537.1,123.30 L537.6,123.30 L538.1,123.30 L538.6,123.30 L539.1,123.30 L539.6,123.30 L540.1,123.30 L540.6,123.30 L541.1,123.30 L541.6,123.30 L542.1,123.30 L542.6,123.30 L543.1,123.30" fill="none" stroke="#45a34a" stroke-width="1"/>
<path d="M318.6,118.41 L319.1,118.94 L319.6,119.44 L320.1,119.90 L320.6,120.33 L321.1,120.72 L321.6,121.08 L322.1,121.39 L322.6,121.68 L323.1,121.93 L323.6,122.15 L324.1,122.34 L324.6,122.50 L325.1,122.64 L325.6,122.76 L326.1,122.86 L326.6,122.94 L327.1,123.01 L327.6,123.07 L328.1,123.12 L328.6,123.16 L329.1,123.19 L329.6,123.21 L330.1,123.23 L330.6,123.25 L331.1,123.26 L331.6,123.27 L332.1,123.28 L332.6,123.28 L333.1,123.29 L333.6,123.29 L334.1,123.29 L334.6,123.30 L335.1,123.30 L335.6,123.30 L336.1,123.30 L336.6,123.30 L337.1,123.30 L337.6,123.30 L338.1,123.30 L338.6,123.30 L339.1,123.30 L339.6,123.30 L340.1,123.30 L340.6,123.30 L341.1,123.30 L341.6,123.30 L342.1,123.30 L342.6,123.30 L343.1,123.30 L343.6,123.30 L344.1,123.30 L344.6,123.30 L345.1,123.30 L345.6,123.29 L346.1,123.29 L346.6,123.29 L347.1,123.29 L347.6,123.28 L348.1,123.28 L348.6,123.27 L349.1,123.27 L349.6,123.26 L350.1,123.25 L350.6,123.23 L351.1,123.22 L351.6,123.20 L352.1,123.18 L352.6,123.15 L353.1,123.12 L353.6,123.08 L354.1,123.04 L354.6,123.00 L355.1,122.95 L355.6,122.89 L356.1,122.83 L356.6,122.76 L357.1,122.68 L357.6,122.60 L358.1,122.51 L358.6,122.42 L359.1,122.33 L359.6,122.24 L360.1,122.14 L360.6,122.04 L361.1,121.95 L361.6,121.86 L362.1,121.77 L362.6,121.69 L363.1,121.61 L363.6,121.55 L364.1,121.49 L364.6,121.45 L365.1,121.42 L365.6,121.40 L366.1,121.40 L366.6,121.41 L367.1,121.43 L367.6,121.47 L368.1,121.51 L368.6,121.57 L369.1,121.64 L369.6,121.72 L370.1,121.80 L370.6,121.89 L371.1,121.98 L371.6,122.07 L372.1,122.16 L372.6,122.25 L373.1,122.34 L373.6,122.43 L374.1,122.50 L374.6,122.57 L375.1,122.63 L375.6,122.68 L376.1,122.72 L376.6,122.74 L377.1,122.75 L377.6,122.75 L378.1,122.72 L378.6,122.67 L379.1,122.60 L379.6,122.50 L380.1,122.37 L380.6,122.20 L381.1,121.99 L381.6,121.74 L382.1,121.44 L382.6,121.08 L383.1,120.66 L383.6,120.16 L384.1,119.58 L384.6,118.92 L385.1,118.16 L385.6,117.29 L386.1,116.31 L386.6,115.20 L387.1,113.95 L387.6,112.57 L388.1,111.04 L388.6,109.35 L389.1,107.50 L389.6,105.49 L390.1,103.30 L390.6,100.95 L391.1,98.43 L391.6,95.74 L392.1,92.89 L392.6,89.89 L393.1,86.75 L393.6,83.47 L394.1,80.08 L394.6,76.59 L395.1,73.02 L395.6,69.39 L396.1,65.73 L396.6,62.04 L397.1,58.38 L397.6,54.74 L398.1,51.17 L398.6,47.69 L399.1,44.32 L399.6,41.09 L400.1,38.02 L400.6,35.12 L401.1,32.43 L401.6,29.95 L402.1,27.71 L402.6,25.70 L403.1,23.94 L403.6,22.44 L404.1,21.18 L404.6,20.18 L405.1,19.42 L405.6,18.88 L406.1,18.56 L406.6,18.42 L407.1,18.41 L407.6,18.52 L408.1,18.80 L408.6,19.29 L409.1,20.01 L409.6,20.96 L410.1,22.16 L410.6,23.62 L411.1,25.32 L411.6,27.28 L412.1,29.47 L412.6,31.90 L413.1,34.54 L413.6,37.39 L414.1,40.42 L414.6,43.60 L415.1,46.93 L415.6,50.37 L416.1,53.90 L416.6,57.50 L417.1,61.12 L417.6,64.76 L418.1,68.38 L418.6,71.95 L419.1,75.46 L419.6,78.88 L420.1,82.19 L420.6,85.37 L421.1,88.41 L421.6,91.29 L422.1,94.00 L422.6,96.53 L423.1,98.88 L423.6,101.03 L424.1,103.00 L424.6,104.79 L425.1,106.38 L425.6,107.80 L426.1,109.04 L426.6,110.12 L427.1,111.05 L427.6,111.82 L428.1,112.47 L428.6,112.99 L429.1,113.39 L429.6,113.70 L430.1,113.91 L430.6,114.04 L431.1,114.09 L431.6,114.08 L432.1,114.00 L432.6,113.88 L433.1,113.70 L433.6,113.47 L434.1,113.20 L434.6,112.89 L435.1,112.54 L435.6,112.14 L436.1,111.71 L436.6,111.23 L437.1,110.71 L437.6,110.16 L438.1,109.57 L438.6,108.95 L439.1,108.30 L439.6,107.62 L440.1,106.92 L440.6,106.20 L441.1,105.47 L441.6,104.74 L442.1,104.02 L442.6,103.30 L443.1,102.61 L443.6,101.94 L444.1,101.31 L444.6,100.72 L445.1,100.18 L445.6,99.68 L446.1,99.25 L446.6,98.88 L447.1,98.56 L447.6,98.32 L448.1,98.13 L448.6,98.01 L449.1,97.94 L449.6,97.92 L450.1,97.94 L450.6,97.98 L451.1,98.08 L451.6,98.23 L452.1,98.45 L452.6,98.74 L453.1,99.10 L453.6,99.53 L454.1,100.04 L454.6,100.61 L455.1,101.25 L455.6,101.95 L456.1,102.72 L456.6,103.53 L457.1,104.39 L457.6,105.29 L458.1,106.21 L458.6,107.16 L459.1,108.13 L459.6,109.10 L460.1,110.07 L460.6,111.03 L461.1,111.98 L461.6,112.90 L462.1,113.79 L462.6,114.65 L463.1,115.47 L463.6,116.25 L464.1,116.99 L464.6,117.67 L465.1,118.31 L465.6,118.90 L466.1,119.44 L466.6,119.93 L467.1,120.37 L467.6,120.77 L468.1,121.13 L468.6,121.45 L469.1,121.73 L469.6,121.97 L470.1,122.18 L470.6,122.37 L471.1,122.53 L471.6,122.66 L472.1,122.78 L472.6,122.87 L473.1,122.95 L473.6,123.02 L474.1,123.08 L474.6,123.12 L475.1,123.16 L475.6,123.19 L476.1,123.21 L476.6,123.23 L477.1,123.25 L477.6,123.26 L478.1,123.27 L478.6,123.28 L479.1,123.28 L479.6,123.29 L480.1,123.29 L480.6,123.29 L481.1,123.29 L481.6,123.30 L482.1,123.30 L482.6,123.30 L483.1,123.30 L483.6,123.30 L484.1,123.30 L484.6,123.30 L485.1,123.30 L485.6,123.30 L486.1,123.30 L486.6,123.30 L487.1,123.30 L487.6,123.30 L488.1,123.30 L488.6,123.30 L489.1,123.30 L489.6,123.30 L490.1,123.30 L490.6,123.30 L491.1,123.30 L491.6,123.30 L492.1,123.30 L492.6,123.30 L493.1,123.30 L493.6,123.30 L494.1,123.30 L494.6,123.30 L495.1,123.30 L495.6,123.30 L496.1,123.30 L496.6,123.30 L497.1,123.30 L497.6,123.30 L498.1,123.30 L498.6,123.30 L499.1,123.30 L499.6,123.30 L500.1,123.30 L500.6,123.30 L501.1,123.30 L501.6,123.30 L502.1,123.30 L502.6,123.30 L503.1,123.30 L503.6,123.30 L504.1,123.30 L504.6,123.30 L505.1,123.30 L505.6,123.30 L506.1,123.30 L506.6,123.30 L507.1,123.30 L507.6,123.30 L508.1,123.30 L508.6,123.30 L509.1,123.30 L509.6,123.30 L510.1,123.30 L510.6,123.30 L511.1,123.30 L511.6,123.30 L512.1,123.30 L512.6,123.30 L513.1,123.30 L513.6,123.30 L514.1,123.30 L514.6,123.30 L515.1,123.30 L515.6,123.30 L516.1,123.30 L516.6,123.30 L517.1,123.30 L517.6,123.30 L518.1,123.30 L518.6,123.30 L519.1,123.30 L519.6,123.30 L520.1,123.30 L520.6,123.30 L521.1,123.30 L521.6,123.30 L522.1,123.30 L522.6,123.30 L523.1,123.30 L523.6,123.30 L524.1,123.30 L524.6,123.30 L525.1,123.30 L525.6,123.30 L526.1,123.30 L526.6,123.30 L527.1,123.30 L527.6,123.30 L528.1,123.30 L528.6,123.30 L529.1,123.30 L529.6,123.30 L530.1,123.30 L530.6,123.30 L531.1,123.30 L531.6,123.30 L532.1,123.30 L532.6,123.30 L533.1,123.30 L533.6,123.30 L534.1,123.30 L534.6,123.30 L535.1,123.30 L535.6,123.30 L536.1,123.30 L536.6,123.30 L537.1,123.30 L537.6,123.30 L538.1,123.30 L538.6,123.30 L539.1,123.30 L539.6,123.30 L540.1,123.30 L540.6,123.30 L541.1,123.30 L541.6,123.30 L542.1,123.30 L542.6,123.30 L543.1,123.30" fill="none" stroke="#303030" stroke-width="1"/>
<path d="M318.6,123.30 L319.1,123.30 L319.6,123.30 L320.1,123.30 L320.6,123.30 L321.1,123.30 L321.6,123.30 L322.1,123.30 L322.6,123.30 L323.1,123.30 L323.6,123.30 L324.1,123.30 L324.6,123.30 L325.1,123.30 L325.6,123.30 L326.1,123.30 L326.6,123.30 L327.1,123.30 L327.6,123.30 L328.1,123.30 L328.6,123.30 L329.1,123.30 L329.6,123.30 L330.1,123.30 L330.6,123.30 L331.1,123.30 L331.6,123.30 L332.1,123.30 L332.6,123.30 L333.1,123.30 L333.6,123.30 L334.1,123.30 L334.6,123.30 L335.1,123.30 L335.6,123.30 L336.1,123.30 L336.6,123.30 L337.1,123.30 L337.6,123.30 L338.1,123.30 L338.6,123.30 L339.1,123.30 L339.6,123.30 L340.1,123.30 L340.6,123.30 L341.1,123.30 L341.6,123.30 L342.1,123.30 L342.6,123.30 L343.1,123.30 L343.6,123.30 L344.1,123.30 L344.6,123.30 L345.1,123.30 L345.6,123.30 L346.1,123.30 L346.6,123.30 L347.1,123.30 L347.6,123.30 L348.1,123.30 L348.6,123.30 L349.1,123.30 L349.6,123.30 L350.1,123.30 L350.6,123.30 L351.1,123.30 L351.6,123.30 L352.1,123.30 L352.6,123.30 L353.1,123.30 L353.6,123.30 L354.1,123.30 L354.6,123.30 L355.1,123.30 L355.6,123.30 L356.1,123.30 L356.6,123.30 L357.1,123.30 L357.6,123.30 L358.1,123.30 L358.6,123.30 L359.1,123.30 L359.6,123.30 L360.1,123.30 L360.6,123.30 L361.1,123.30 L361.6,123.30 L362.1,123.30 L362.6,123.30 L363.1,123.30 L363.6,123.30 L364.1,123.30 L364.6,123.30 L365.1,123.30 L365.6,123.30 L366.1,123.30 L366.6,123.30 L367.1,123.30 L367.6,123.30 L368.1,123.30 L368.6,123.30 L369.1,123.30 L369.6,123.30 L370.1,123.30 L370.6,123.30 L371.1,123.30 L371.6,123.30 L372.1,123.30 L372.6,123.30 L373.1,123.30 L373.6,123.30 L374.1,123.30 L374.6,123.30 L375.1,123.30 L375.6,123.30 L376.1,123.30 L376.6,123.30 L377.1,123.30 L377.6,123.30 L378.1,123.30 L378.6,123.30 L379.1,123.30 L379.6,123.30 L380.1,123.30 L380.6,123.30 L381.1,123.30 L381.6,123.30 L382.1,123.30 L382.6,123.30 L383.1,123.30 L383.6,123.30 L384.1,123.30 L384.6,123.30 L385.1,123.30 L385.6,123.30 L386.1,123.30 L386.6,123.30 L387.1,123.30 L387.6,123.30 L388.1,123.30 L388.6,123.30 L389.1,123.30 L389.6,123.30 L390.1,123.30 L390.6,123.30 L391.1,123.30 L391.6,123.30 L392.1,123.30 L392.6,123.30 L393.1,123.30 L393.6,123.30 L394.1,123.30 L394.6,123.30 L395.1,123.30 L395.6,123.30 L396.1,123.30 L396.6,123.30 L397.1,123.30 L397.6,123.30 L398.1,123.30 L398.6,123.30 L399.1,123.30 L399.6,123.30 L400.1,123.30 L400.6,123.30 L401.1,123.30 L401.6,123.30 L402.1,123.30 L402.6,123.30 L403.1,123.30 L403.6,123.30 L404.1,123.30 L404.6,123.30 L405.1,123.30 L405.6,123.30 L406.1,123.30 L406.6,123.30 L407.1,123.30 L407.6,123.30 L408.1,123.30 L408.6,123.30 L409.1,123.30 L409.6,123.30 L410.1,123.30 L410.6,123.30 L411.1,123.30 L411.6,123.30 L412.1,123.30 L412.6,123.30 L413.1,123.30 L413.6,123.30 L414.1,123.30 L414.6,123.30 L415.1,123.30 L415.6,123.30 L416.1,123.30 L416.6,123.30 L417.1,123.30 L417.6,123.30 L418.1,123.30 L418.6,123.30 L419.1,123.30 L419.6,123.30 L420.1,123.30 L420.6,123.30 L421.1,123.30 L421.6,123.30 L422.1,123.30 L422.6,123.30 L423.1,123.30 L423.6,123.30 L424.1,123.30 L424.6,123.30 L425.1,123.30 L425.6,123.30 L426.1,123.30 L426.6,123.30 L427.1,123.30 L427.6,123.30 L428.1,123.30 L428.6,123.30 L429.1,123.30 L429.6,123.30 L430.1,123.30 L430.6,123.30 L431.1,123.30 L431.6,123.30 L432.1,123.30 L432.6,123.30 L433.1,123.30 L433.6,123.30 L434.1,123.30 L434.6,123.30 L435.1,123.30 L435.6,123.30 L436.1,123.30 L436.6,123.30 L437.1,123.30 L437.6,123.30 L438.1,123.30 L438.6,123.30 L439.1,123.30 L439.6,123.30 L440.1,123.30 L440.6,123.30 L441.1,123.30 L441.6,123.30 L442.1,123.30 L442.6,123.30 L443.1,123.30 L443.6,123.30 L444.1,123.30 L444.6,123.30 L445.1,123.30 L445.6,123.30 L446.1,123.30 L446.6,123.30 L447.1,123.30 L447.6,123.30 L448.1,123.30 L448.6,123.30 L449.1,123.30 L449.6,123.30 L450.1,123.30 L450.6,123.30 L451.1,123.30 L451.6,123.30 L452.1,123.30 L452.6,123.30 L453.1,123.30 L453.6,123.30 L454.1,123.30 L454.6,123.30 L455.1,123.30 L455.6,123.30 L456.1,123.30 L456.6,123.30 L457.1,123.30 L457.6,123.30 L458.1,123.30 L458.6,123.30 L459.1,123.30 L459.6,123.30 L460.1,123.30 L460.6,123.30 L461.1,123.30 L461.6,123.30 L462.1,123.30 L462.6,123.30 L463.1,123.30 L463.6,123.30 L464.1,123.30 L464.6,123.30 L465.1,123.30 L465.6,123.30 L466.1,123.30 L466.6,123.30 L467.1,123.30 L467.6,123.30 L468.1,123.30 L468.6,123.30 L469.1,123.30 L469.6,123.30 L470.1,123.30 L470.6,123.30 L471.1,123.30 L471.6,123.30 L472.1,123.30 L472.6,123.30 L473.1,123.30 L473.6,123.30 L474.1,123.30 L474.6,123.30 L475.1,123.30 L475.6,123.30 L476.1,123.30 L476.6,123.30 L477.1,123.30 L477.6,123.30 L478.1,123.30 L478.6,123.30 L479.1,123.30 L479.6,123.30 L480.1,123.30 L480.6,123.30 L481.1,123.30 L481.6,123.30 L482.1,123.30 L482.6,123.29 L483.1,123.29 L483.6,123.29 L484.1,123.29 L484.6,123.28 L485.1,123.28 L485.6,123.27 L486.1,123.26 L486.6,123.25 L487.1,123.24 L487.6,123.22 L488.1,123.20 L488.6,123.17 L489.1,123.14 L489.6,123.10 L490.1,123.05 L490.6,122.99 L491.1,122.91 L491.6,122.83 L492.1,122.72 L492.6,122.60 L493.1,122.45 L493.6,122.28 L494.1,122.08 L494.6,121.84 L495.1,121.57 L495.6,121.26 L496.1,120.91 L496.6,120.50 L497.1,120.05 L497.6,119.53 L498.1,118.95 L498.6,118.31 L499.1,117.60 L499.6,116.81 L500.1,115.95 L500.6,115.00 L501.1,113.98 L501.6,112.88 L502.1,111.69 L502.6,110.42 L503.1,109.08 L503.6,107.65 L504.1,106.16 L504.6,104.60 L505.1,102.97 L505.6,101.30 L506.1,99.57 L506.6,97.81 L507.1,96.03 L507.6,94.22 L508.1,92.42 L508.6,90.62 L509.1,88.84 L509.6,87.09 L510.1,85.38 L510.6,83.73 L511.1,82.15 L511.6,80.64 L512.1,79.23 L512.6,77.91 L513.1,76.69 L513.6,75.58 L514.1,74.59 L514.6,73.72 L515.1,72.97 L515.6,72.35 L516.1,71.84 L516.6,71.45 L517.1,71.17 L517.6,71.00 L518.1,70.92 L518.6,70.90 L519.1,70.94 L519.6,71.06 L520.1,71.27 L520.6,71.59 L521.1,72.03 L521.6,72.58 L522.1,73.26 L522.6,74.06 L523.1,74.98 L523.6,76.01 L524.1,77.16 L524.6,78.42 L525.1,79.78 L525.6,81.24 L526.1,82.77 L526.6,84.38 L527.1,86.06 L527.6,87.78 L528.1,89.54 L528.6,91.33 L529.1,93.14 L529.6,94.94 L530.1,96.74 L530.6,98.52 L531.1,100.27 L531.6,101.97 L532.1,103.63 L532.6,105.23 L533.1,106.77 L533.6,108.23 L534.1,109.62 L534.6,110.94 L535.1,112.17 L535.6,113.33 L536.1,114.40 L536.6,115.39 L537.1,116.30 L537.6,117.13 L538.1,117.89 L538.6,118.58 L539.1,119.19 L539.6,119.75 L540.1,120.24 L540.6,120.67 L541.1,121.06 L541.6,121.39 L542.1,121.69 L542.6,121.94 L543.1,122.16" fill="none" stroke="#4444f0" stroke-width="1"/>
<path d="M318.6,123.30 L319.1,123.30 L319.6,123.30 L320.1,123.30 L320.6,123.30 L321.1,123.30 L321.6,123.30 L322.1,123.30 L322.6,123.30 L323.1,123.30 L323.6,123.30 L324.1,123.30 L324.6,123.30 L325.1,123.30 L325.6,123.30 L326.1,123.30 L326.6,123.30 L327.1,123.30 L327.6,123.30 L328.1,123.30 L328.6,123.30 L329.1,123.30 L329.6,123.30 L330.1,123.30 L330.6,123.30 L331.1,123.30 L331.6,123.30 L332.1,123.30 L332.6,123.30 L333.1,123.30 L333.6,123.30 L334.1,123.30 L334.6,123.30 L335.1,123.30 L335.6,123.30 L336.1,123.30 L336.6,123.30 L337.1,123.30 L337.6,123.30 L338.1,123.30 L338.6,123.30 L339.1,123.30 L339.6,123.30 L340.1,123.30 L340.6,123.30 L341.1,123.30 L341.6,123.30 L342.1,123.30 L342.6,123.30 L343.1,123.30 L343.6,123.30 L344.1,123.30 L344.6,123.30 L345.1,123.30 L345.6,123.29 L346.1,123.29 L346.6,123.29 L347.1,123.29 L347.6,123.28 L348.1,123.28 L348.6,123.27 L349.1,123.27 L349.6,123.26 L350.1,123.24 L350.6,123.23 L351.1,123.21 L351.6,123.18 L352.1,123.16 L352.6,123.12 L353.1,123.08 L353.6,123.02 L354.1,122.96 L354.6,122.88 L355.1,122.79 L355.6,122.68 L356.1,122.55 L356.6,122.39 L357.1,122.21 L357.6,122.00 L358.1,121.76 L358.6,121.48 L359.1,121.16 L359.6,120.79 L360.1,120.37 L360.6,119.89 L361.1,119.36 L361.6,118.76 L362.1,118.09 L362.6,117.35 L363.1,116.54 L363.6,115.64 L364.1,114.66 L364.6,113.60 L365.1,112.44 L365.6,111.21 L366.1,109.88 L366.6,108.47 L367.1,106.97 L367.6,105.39 L368.1,103.73 L368.6,102.01 L369.1,100.22 L369.6,98.37 L370.1,96.47 L370.6,94.53 L371.1,92.57 L371.6,90.59 L372.1,88.60 L372.6,86.62 L373.1,84.66 L373.6,82.73 L374.1,80.85 L374.6,79.02 L375.1,77.26 L375.6,75.59 L376.1,74.01 L376.6,72.52 L377.1,71.15 L377.6,69.89 L378.1,68.76 L378.6,67.75 L379.1,66.87 L379.6,66.13 L380.1,65.51 L380.6,65.02 L381.1,64.66 L381.6,64.40 L382.1,64.26 L382.6,64.20 L383.1,64.21 L383.6,64.28 L384.1,64.45 L384.6,64.72 L385.1,65.11 L385.6,65.62 L386.1,66.27 L386.6,67.04 L387.1,67.94 L387.6,68.98 L388.1,70.13 L388.6,71.41 L389.1,72.81 L389.6,74.31 L390.1,75.92 L390.6,77.61 L391.1,79.38 L391.6,81.22 L392.1,83.11 L392.6,85.05 L393.1,87.01 L393.6,89.00 L394.1,90.98 L394.6,92.96 L395.1,94.92 L395.6,96.85 L396.1,98.74 L396.6,100.58 L397.1,102.36 L397.6,104.07 L398.1,105.71 L398.6,107.27 L399.1,108.75 L399.6,110.15 L400.1,111.46 L400.6,112.68 L401.1,113.82 L401.6,114.86 L402.1,115.83 L402.6,116.71 L403.1,117.51 L403.6,118.23 L404.1,118.88 L404.6,119.47 L405.1,119.99 L405.6,120.45 L406.1,120.86 L406.6,121.22 L407.1,121.54 L407.6,121.81 L408.1,122.05 L408.6,122.25 L409.1,122.43 L409.6,122.57 L410.1,122.70 L410.6,122.81 L411.1,122.90 L411.6,122.97 L412.1,123.03 L412.6,123.08 L413.1,123.13 L413.6,123.16 L414.1,123.19 L414.6,123.21 L415.1,123.23 L415.6,123.25 L416.1,123.26 L416.6,123.27 L417.1,123.27 L417.6,123.28 L418.1,123.28 L418.6,123.29 L419.1,123.29 L419.6,123.29 L420.1,123.29 L420.6,123.29 L421.1,123.29 L421.6,123.29 L422.1,123.29 L422.6,123.29 L423.1,123.29 L423.6,123.29 L424.1,123.28 L424.6,123.28 L425.1,123.27 L425.6,123.26 L426.1,123.25 L426.6,123.23 L427.1,123.21 L427.6,123.19 L428.1,123.16 L428.6,123.12 L429.1,123.08 L429.6,123.02 L430.1,122.96 L430.6,122.88 L431.1,122.78 L431.6,122.67 L432.1,122.53 L432.6,122.37 L433.1,122.18 L433.6,121.97 L434.1,121.71 L434.6,121.42 L435.1,121.09 L435.6,120.70 L436.1,120.27 L436.6,119.78 L437.1,119.23 L437.6,118.62 L438.1,117.95 L438.6,117.20 L439.1,116.38 L439.6,115.48 L440.1,114.51 L440.6,113.46 L441.1,112.34 L441.6,111.14 L442.1,109.87 L442.6,108.53 L443.1,107.12 L443.6,105.65 L444.1,104.14 L444.6,102.57 L445.1,100.97 L445.6,99.35 L446.1,97.70 L446.6,96.05 L447.1,94.41 L447.6,92.78 L448.1,91.18 L448.6,89.63 L449.1,88.12 L449.6,86.68 L450.1,85.30 L450.6,84.02 L451.1,82.82 L451.6,81.72 L452.1,80.72 L452.6,79.84 L453.1,79.07 L453.6,78.41 L454.1,77.86 L454.6,77.43 L455.1,77.10 L455.6,76.88 L456.1,76.75 L456.6,76.70 L457.1,76.71 L457.6,76.77 L458.1,76.92 L458.6,77.16 L459.1,77.51 L459.6,77.96 L460.1,78.53 L460.6,79.21 L461.1,80.01 L461.6,80.91 L462.1,81.93 L462.6,83.05 L463.1,84.27 L463.6,85.57 L464.1,86.96 L464.6,88.42 L465.1,89.93 L465.6,91.50 L466.1,93.11 L466.6,94.74 L467.1,96.38 L467.6,98.03 L468.1,99.67 L468.6,101.30 L469.1,102.89 L469.6,104.44 L470.1,105.95 L470.6,107.41 L471.1,108.80 L471.6,110.13 L472.1,111.38 L472.6,112.57 L473.1,113.68 L473.6,114.71 L474.1,115.67 L474.6,116.55 L475.1,117.35 L475.6,118.09 L476.1,118.75 L476.6,119.35 L477.1,119.88 L477.6,120.36 L478.1,120.78 L478.6,121.16 L479.1,121.48 L479.6,121.77 L480.1,122.01 L480.6,122.22 L481.1,122.40 L481.6,122.56 L482.1,122.69 L482.6,122.80 L483.1,122.89 L483.6,122.97 L484.1,123.03 L484.6,123.09 L485.1,123.13 L485.6,123.16 L486.1,123.19 L486.6,123.22 L487.1,123.23 L487.6,123.25 L488.1,123.26 L488.6,123.27 L489.1,123.28 L489.6,123.28 L490.1,123.29 L490.6,123.29 L491.1,123.29 L491.6,123.29 L492.1,123.30 L492.6,123.30 L493.1,123.30 L493.6,123.30 L494.1,123.30 L494.6,123.30 L495.1,123.30 L495.6,123.30 L496.1,123.30 L496.6,123.30 L497.1,123.30 L497.6,123.30 L498.1,123.30 L498.6,123.30 L499.1,123.30 L499.6,123.30 L500.1,123.30 L500.6,123.30 L501.1,123.30 L501.6,123.30 L502.1,123.30 L502.6,123.30 L503.1,123.30 L503.6,123.30 L504.1,123.30 L504.6,123.30 L505.1,123.30 L505.6,123.30 L506.1,123.30 L506.6,123.30 L507.1,123.30 L507.6,123.30 L508.1,123.30 L508.6,123.30 L509.1,123.30 L509.6,123.30 L510.1,123.30 L510.6,123.30 L511.1,123.30 L511.6,123.30 L512.1,123.30 L512.6,123.30 L513.1,123.30 L513.6,123.30 L514.1,123.30 L514.6,123.30 L515.1,123.30 L515.6,123.30 L516.1,123.30 L516.6,123.30 L517.1,123.30 L517.6,123.30 L518.1,123.30 L518.6,123.30 L519.1,123.30 L519.6,123.30 L520.1,123.30 L520.6,123.30 L521.1,123.30 L521.6,123.30 L522.1,123.30 L522.6,123.30 L523.1,123.30 L523.6,123.30 L524.1,123.30 L524.6,123.30 L525.1,123.30 L525.6,123.30 L526.1,123.30 L526.6,123.30 L527.1,123.30 L527.6,123.30 L528.1,123.30 L528.6,123.29 L529.1,123.29 L529.6,123.29 L530.1,123.28 L530.6,123.28 L531.1,123.27 L531.6,123.26 L532.1,123.24 L532.6,123.22 L533.1,123.19 L533.6,123.15 L534.1,123.10 L534.6,123.03 L535.1,122.95 L535.6,122.84 L536.1,122.71 L536.6,122.55 L537.1,122.35 L537.6,122.11 L538.1,121.81 L538.6,121.46 L539.1,121.04 L539.6,120.55 L540.1,119.97 L540.6,119.31 L541.1,118.55 L541.6,117.69 L542.1,116.72 L542.6,115.63 L543.1,114.44" fill="none" stroke="#f04848" stroke-width="1"/>
<line x1="318.6" y1="123.3" x2="358.5" y2="123.3" stroke="#f04848" stroke-width="1.05"/>
<line x1="358.5" y1="123.3" x2="406" y2="123.3" stroke="#4444f0" stroke-width="1.05"/>
<line x1="406" y1="123.3" x2="430" y2="123.3" stroke="#f04848" stroke-width="1.05"/>
<line x1="430" y1="123.3" x2="478.8" y2="123.3" stroke="#4444f0" stroke-width="1.05"/>
<line x1="478.8" y1="123.3" x2="536" y2="123.3" stroke="#f04848" stroke-width="1.05"/>
<line x1="536" y1="123.3" x2="543" y2="123.3" stroke="#555" stroke-width="1.05"/>
<text x="0.9" y="21.8" font-size="19.5" font-family='"Liberation Sans", sans-serif' fill="#111" stroke="#111" stroke-width="0.45">ai</text>
<text x="295.2" y="22.6" font-size="19" font-family='"Liberation Sans", sans-serif' fill="#111" stroke="#111" stroke-width="0.45">aii</text>
<text x="183" y="14.8" font-size="21" font-family='"Liberation Serif", serif' fill="#111" stroke="#111" stroke-width="0.35" text-anchor="middle">G</text>
<text x="457.6" y="17" font-size="21" font-family='"Liberation Serif", serif' fill="#111" stroke="#111" stroke-width="0.35" text-anchor="middle">T</text>
<path d="M179.3,23.9 L185.5,23.9 L185.5,51.2 L191.55,51.2 L182.4,69.6 L173.25,51.2 L179.3,51.2 Z" fill="#6d6d6d"/>
<path d="M454.25,23.3 L460.95000000000005,23.3 L460.95000000000005,51.7 L467.15000000000003,51.7 L457.6,69.4 L448.05,51.7 L454.25,51.7 Z" fill="#6d6d6d"/>
<text x="-0.3" y="151.5" font-size="20" font-family='"Liberation Sans", sans-serif' fill="#111">b</text>
<rect x="93" y="157.3" width="6.099999999999994" height="64.79999999999998" fill="#e0e0e5"/>
<rect x="249.7" y="157.3" width="6.200000000000017" height="64.79999999999998" fill="#e0e0e5"/>
<line x1="27.4" y1="157.3" x2="289.3" y2="157.3" stroke="#222" stroke-width="1.3"/>
<line x1="27.4" y1="222.1" x2="289.3" y2="222.1" stroke="#333" stroke-width="1"/>
<line x1="178.9" y1="157.3" x2="178.9" y2="222.1" stroke="#222" stroke-width="1" stroke-dasharray="1.5,1.5"/>
<path d="M27.4,215.20 L27.6,215.20 L27.9,215.20 L28.1,215.20 L28.4,215.20 L28.6,215.20 L28.9,215.20 L29.1,215.20 L29.4,215.20 L29.6,215.20 L29.9,215.20 L30.1,215.20 L30.4,215.20 L30.6,215.20 L30.9,215.20 L31.1,215.20 L31.4,215.20 L31.6,215.20 L31.9,215.20 L32.1,215.20 L32.4,215.20 L32.6,215.20 L32.9,215.20 L33.1,215.19 L33.4,215.19 L33.6,215.19 L33.9,215.19 L34.1,215.18 L34.4,215.17 L34.6,215.16 L34.9,215.15 L35.1,215.14 L35.4,215.11 L35.6,215.09 L35.9,215.05 L36.1,215.01 L36.4,214.96 L36.6,214.89 L36.9,214.81 L37.1,214.71 L37.4,214.59 L37.6,214.44 L37.9,214.27 L38.1,214.06 L38.4,213.82 L38.6,213.54 L38.9,213.22 L39.1,212.86 L39.4,212.45 L39.6,211.99 L39.9,211.49 L40.1,210.94 L40.4,210.34 L40.6,209.69 L40.9,209.01 L41.1,208.30 L41.4,207.56 L41.6,206.80 L41.9,206.04 L42.1,205.28 L42.4,204.54 L42.6,203.83 L42.9,203.16 L43.1,202.54 L43.4,202.00 L43.6,201.53 L43.9,201.15 L44.1,200.86 L44.4,200.68 L44.6,200.60 L44.9,200.63 L45.1,200.77 L45.4,201.02 L45.6,201.36 L45.9,201.80 L46.1,202.32 L46.4,202.90 L46.6,203.55 L46.9,204.25 L47.1,204.98 L47.4,205.73 L47.6,206.50 L47.9,207.26 L48.1,208.01 L48.4,208.73 L48.6,209.43 L48.9,210.08 L49.1,210.70 L49.4,211.27 L49.6,211.80 L49.9,212.27 L50.1,212.70 L50.4,213.08 L50.6,213.42 L50.9,213.71 L51.1,213.97 L51.4,214.19 L51.6,214.37 L51.9,214.53 L52.1,214.66 L52.4,214.77 L52.6,214.86 L52.9,214.93 L53.1,214.99 L53.4,215.04 L53.6,215.08 L53.9,215.10 L54.1,215.13 L54.4,215.15 L54.6,215.16 L54.9,215.17 L55.1,215.18 L55.4,215.18 L55.6,215.19 L55.9,215.19 L56.1,215.19 L56.4,215.20 L56.6,215.20 L56.9,215.20 L57.1,215.20 L57.4,215.20 L57.6,215.20 L57.9,215.20 L58.1,215.20 L58.4,215.20 L58.6,215.20 L58.9,215.20 L59.1,215.19 L59.4,215.19 L59.6,215.19 L59.9,215.19 L60.1,215.18 L60.4,215.17 L60.6,215.16 L60.9,215.15 L61.1,215.13 L61.4,215.10 L61.6,215.07 L61.9,215.03 L62.1,214.98 L62.4,214.91 L62.6,214.83 L62.9,214.72 L63.1,214.59 L63.4,214.43 L63.6,214.23 L63.9,213.99 L64.2,213.71 L64.4,213.36 L64.7,212.96 L64.9,212.49 L65.2,211.94 L65.4,211.32 L65.7,210.60 L65.9,209.80 L66.2,208.90 L66.4,207.91 L66.7,206.82 L66.9,205.64 L67.2,204.38 L67.4,203.04 L67.7,201.63 L67.9,200.18 L68.2,198.69 L68.4,197.19 L68.7,195.70 L68.9,194.24 L69.2,192.85 L69.4,191.53 L69.7,190.32 L69.9,189.24 L70.2,188.32 L70.4,187.57 L70.7,187.01 L70.9,186.65 L71.2,186.50 L71.4,186.57 L71.7,186.84 L71.9,187.32 L72.2,188.00 L72.4,188.85 L72.7,189.87 L72.9,191.03 L73.2,192.31 L73.4,193.68 L73.7,195.11 L73.9,196.59 L74.2,198.09 L74.4,199.59 L74.7,201.06 L74.9,202.48 L75.2,203.85 L75.4,205.14 L75.7,206.36 L75.9,207.48 L76.2,208.51 L76.4,209.45 L76.7,210.29 L76.9,211.04 L77.2,211.70 L77.4,212.28 L77.7,212.78 L77.9,213.21 L78.2,213.58 L78.4,213.88 L78.7,214.14 L78.9,214.35 L79.2,214.53 L79.4,214.67 L79.7,214.79 L79.9,214.88 L80.2,214.95 L80.4,215.01 L80.7,215.06 L80.9,215.09 L81.2,215.12 L81.4,215.14 L81.7,215.16 L81.9,215.17 L82.2,215.18 L82.4,215.18 L82.7,215.19 L82.9,215.19 L83.2,215.19 L83.4,215.19 L83.7,215.19 L83.9,215.18 L84.2,215.18 L84.4,215.17 L84.7,215.16 L84.9,215.15 L85.2,215.13 L85.4,215.11 L85.7,215.08 L85.9,215.04 L86.2,214.98 L86.4,214.91 L86.7,214.83 L86.9,214.72 L87.2,214.58 L87.4,214.42 L87.7,214.21 L87.9,213.96 L88.2,213.65 L88.4,213.29 L88.7,212.86 L88.9,212.34 L89.2,211.75 L89.4,211.06 L89.7,210.27 L89.9,209.37 L90.2,208.36 L90.4,207.24 L90.7,206.00 L90.9,204.64 L91.2,203.17 L91.4,201.60 L91.7,199.94 L91.9,198.21 L92.2,196.41 L92.4,194.59 L92.7,192.75 L92.9,190.92 L93.2,189.15 L93.4,187.45 L93.7,185.86 L93.9,184.41 L94.2,183.12 L94.4,182.03 L94.7,181.16 L94.9,180.52 L95.2,180.13 L95.4,180.00 L95.7,180.13 L95.9,180.52 L96.2,181.16 L96.4,182.03 L96.7,183.12 L96.9,184.41 L97.2,185.86 L97.4,187.45 L97.7,189.15 L97.9,190.92 L98.2,192.75 L98.4,194.59 L98.7,196.41 L98.9,198.21 L99.2,199.94 L99.4,201.60 L99.7,203.17 L99.9,204.64 L100.2,206.00 L100.4,207.24 L100.7,208.36 L100.9,209.37 L101.2,210.27 L101.4,211.06 L101.7,211.75 L101.9,212.34 L102.2,212.86 L102.4,213.29 L102.7,213.65 L102.9,213.96 L103.2,214.21 L103.4,214.42 L103.7,214.58 L103.9,214.72 L104.2,214.83 L104.4,214.91 L104.7,214.98 L104.9,215.04 L105.2,215.08 L105.4,215.11 L105.7,215.13 L105.9,215.15 L106.2,215.16 L106.4,215.17 L106.7,215.18 L106.9,215.19 L107.2,215.19 L107.4,215.19 L107.7,215.19 L107.9,215.20 L108.2,215.20 L108.4,215.20 L108.7,215.20 L108.9,215.20 L109.2,215.19 L109.4,215.19 L109.7,215.19 L109.9,215.19 L110.2,215.19 L110.4,215.18 L110.7,215.18 L110.9,215.17 L111.2,215.16 L111.4,215.15 L111.7,215.14 L111.9,215.13 L112.2,215.12 L112.4,215.10 L112.7,215.08 L112.9,215.05 L113.2,215.02 L113.4,214.99 L113.7,214.95 L113.9,214.91 L114.2,214.87 L114.4,214.81 L114.7,214.76 L114.9,214.69 L115.2,214.62 L115.4,214.55 L115.7,214.47 L115.9,214.39 L116.2,214.30 L116.4,214.21 L116.7,214.12 L116.9,214.02 L117.2,213.93 L117.4,213.84 L117.7,213.74 L117.9,213.66 L118.2,213.57 L118.4,213.49 L118.7,213.42 L118.9,213.36 L119.2,213.30 L119.4,213.26 L119.7,213.23 L119.9,213.21 L120.2,213.20 L120.4,213.20 L120.7,213.22 L120.9,213.25 L121.2,213.28 L121.4,213.33 L121.7,213.39 L121.9,213.46 L122.2,213.53 L122.4,213.61 L122.7,213.69 L122.9,213.78 L123.2,213.87 L123.4,213.96 L123.7,214.05 L123.9,214.13 L124.2,214.22 L124.4,214.29 L124.7,214.37 L124.9,214.43 L125.2,214.49 L125.4,214.54 L125.7,214.58 L125.9,214.61 L126.2,214.64 L126.4,214.65 L126.7,214.66 L126.9,214.65 L127.2,214.64 L127.4,214.62 L127.7,214.59 L127.9,214.56 L128.2,214.51 L128.4,214.46 L128.7,214.41 L128.9,214.35 L129.2,214.29 L129.4,214.23 L129.7,214.17 L129.9,214.10 L130.2,214.04 L130.4,213.98 L130.7,213.92 L130.9,213.87 L131.2,213.82 L131.4,213.78 L131.7,213.75 L131.9,213.72 L132.2,213.71 L132.4,213.70 L132.7,213.70 L132.9,213.71 L133.2,213.73 L133.4,213.76 L133.7,213.79 L133.9,213.84 L134.2,213.89 L134.4,213.94 L134.7,214.00 L134.9,214.07 L135.2,214.14 L135.4,214.21 L135.7,214.28 L135.9,214.35 L136.2,214.42 L136.4,214.49 L136.7,214.55 L136.9,214.62 L137.2,214.68 L137.4,214.74 L137.7,214.79 L137.9,214.84 L138.2,214.88 L138.4,214.93 L138.7,214.96 L138.9,215.00 L139.2,215.03 L139.4,215.05 L139.7,215.08 L139.9,215.10 L140.2,215.11 L140.4,215.13 L140.7,215.14 L140.9,215.15 L141.2,215.16 L141.4,215.17 L141.7,215.17 L141.9,215.18 L142.2,215.18 L142.4,215.19 L142.7,215.19 L142.9,215.19 L143.2,215.19 L143.4,215.19 L143.7,215.19 L143.9,215.19 L144.2,215.19 L144.4,215.19 L144.7,215.18 L144.9,215.18 L145.2,215.17 L145.4,215.16 L145.7,215.15 L145.9,215.14 L146.2,215.13 L146.4,215.11 L146.7,215.09 L146.9,215.06 L147.2,215.03 L147.4,214.99 L147.7,214.94 L147.9,214.89 L148.2,214.83 L148.4,214.76 L148.7,214.68 L148.9,214.59 L149.2,214.49 L149.4,214.37 L149.7,214.25 L149.9,214.12 L150.2,213.98 L150.4,213.82 L150.7,213.66 L150.9,213.50 L151.2,213.32 L151.4,213.15 L151.7,212.97 L151.9,212.80 L152.2,212.62 L152.4,212.46 L152.7,212.31 L152.9,212.16 L153.2,212.04 L153.4,211.93 L153.7,211.84 L153.9,211.77 L154.2,211.72 L154.4,211.70 L154.7,211.70 L154.9,211.73 L155.2,211.78 L155.4,211.85 L155.7,211.95 L155.9,212.06 L156.2,212.19 L156.4,212.34 L156.7,212.49 L156.9,212.66 L157.2,212.83 L157.4,213.01 L157.7,213.18 L157.9,213.36 L158.2,213.53 L158.4,213.70 L158.7,213.86 L158.9,214.01 L159.2,214.15 L159.4,214.28 L159.7,214.40 L159.9,214.51 L160.2,214.61 L160.4,214.69 L160.7,214.77 L160.9,214.84 L161.2,214.90 L161.4,214.95 L161.7,215.00 L161.9,215.03 L162.2,215.06 L162.4,215.09 L162.7,215.11 L162.9,215.13 L163.2,215.15 L163.4,215.16 L163.7,215.17 L163.9,215.17 L164.2,215.18 L164.4,215.18 L164.7,215.19 L164.9,215.19 L165.2,215.19 L165.4,215.20 L165.7,215.20 L165.9,215.20 L166.2,215.20 L166.4,215.20 L166.7,215.20 L166.9,215.20 L167.2,215.20 L167.4,215.20 L167.7,215.20 L167.9,215.19 L168.2,215.19 L168.4,215.19 L168.7,215.19 L168.9,215.18 L169.2,215.18 L169.4,215.17 L169.7,215.16 L169.9,215.14 L170.2,215.13 L170.4,215.10 L170.7,215.07 L170.9,215.04 L171.2,214.99 L171.4,214.94 L171.7,214.87 L171.9,214.79 L172.2,214.69 L172.4,214.58 L172.7,214.44 L172.9,214.28 L173.2,214.10 L173.4,213.89 L173.7,213.65 L173.9,213.37 L174.2,213.07 L174.4,212.73 L174.7,212.37 L174.9,211.97 L175.2,211.54 L175.4,211.09 L175.7,210.61 L175.9,210.12 L176.2,209.62 L176.4,209.11 L176.7,208.61 L176.9,208.12 L177.2,207.64 L177.4,207.20 L177.7,206.79 L177.9,206.43 L178.2,206.12 L178.4,205.86 L178.7,205.67 L178.9,205.55 L179.2,205.50 L179.4,205.52 L179.7,205.62 L179.9,205.78 L180.2,206.01 L180.4,206.30 L180.7,206.64 L180.9,207.03 L181.2,207.46 L181.4,207.93 L181.7,208.41 L181.9,208.91 L182.2,209.42 L182.4,209.92 L182.7,210.42 L182.9,210.90 L183.2,211.36 L183.4,211.80 L183.7,212.21 L183.9,212.59 L184.2,212.94 L184.4,213.26 L184.7,213.54 L184.9,213.79 L185.2,214.02 L185.4,214.21 L185.7,214.38 L185.9,214.53 L186.2,214.65 L186.4,214.76 L186.7,214.84 L186.9,214.91 L187.2,214.97 L187.4,215.02 L187.7,215.06 L187.9,215.09 L188.2,215.12 L188.4,215.14 L188.7,215.15 L188.9,215.16 L189.2,215.17 L189.4,215.18 L189.7,215.19 L189.9,215.19 L190.2,215.19 L190.4,215.19 L190.7,215.20 L190.9,215.20 L191.2,215.20 L191.4,215.20 L191.7,215.20 L191.9,215.20 L192.2,215.20 L192.4,215.20 L192.7,215.19 L192.9,215.19 L193.2,215.19 L193.4,215.19 L193.7,215.18 L193.9,215.17 L194.2,215.16 L194.4,215.15 L194.7,215.13 L194.9,215.11 L195.2,215.08 L195.4,215.05 L195.7,215.00 L195.9,214.94 L196.2,214.87 L196.4,214.78 L196.7,214.67 L196.9,214.54 L197.2,214.37 L197.4,214.18 L197.7,213.95 L197.9,213.68 L198.2,213.36 L198.4,212.99 L198.7,212.57 L198.9,212.09 L199.2,211.55 L199.4,210.95 L199.7,210.28 L199.9,209.56 L200.2,208.78 L200.4,207.94 L200.7,207.05 L200.9,206.12 L201.2,205.17 L201.4,204.19 L201.7,203.21 L201.9,202.23 L202.2,201.29 L202.4,200.38 L202.7,199.53 L202.9,198.75 L203.2,198.07 L203.4,197.49 L203.7,197.02 L203.9,196.68 L204.2,196.47 L204.4,196.40 L204.7,196.47 L204.9,196.68 L205.2,197.02 L205.4,197.49 L205.7,198.07 L205.9,198.75 L206.2,199.53 L206.4,200.38 L206.7,201.29 L206.9,202.23 L207.2,203.21 L207.4,204.19 L207.7,205.17 L207.9,206.12 L208.2,207.05 L208.4,207.94 L208.7,208.78 L208.9,209.56 L209.2,210.28 L209.4,210.95 L209.7,211.55 L209.9,212.09 L210.2,212.57 L210.4,212.99 L210.7,213.36 L210.9,213.68 L211.2,213.95 L211.4,214.18 L211.7,214.37 L211.9,214.54 L212.2,214.67 L212.4,214.78 L212.7,214.87 L212.9,214.94 L213.2,215.00 L213.4,215.05 L213.7,215.08 L213.9,215.11 L214.2,215.13 L214.4,215.15 L214.7,215.16 L214.9,215.17 L215.2,215.18 L215.4,215.18 L215.7,215.19 L215.9,215.19 L216.2,215.19 L216.4,215.19 L216.7,215.19 L216.9,215.18 L217.2,215.18 L217.4,215.17 L217.7,215.16 L217.9,215.15 L218.2,215.13 L218.4,215.11 L218.7,215.07 L218.9,215.03 L219.2,214.98 L219.4,214.91 L219.7,214.82 L219.9,214.71 L220.2,214.57 L220.4,214.40 L220.7,214.19 L220.9,213.94 L221.2,213.63 L221.4,213.26 L221.7,212.82 L221.9,212.30 L222.2,211.69 L222.4,210.99 L222.7,210.19 L222.9,209.27 L223.2,208.25 L223.4,207.10 L223.7,205.84 L223.9,204.46 L224.2,202.97 L224.4,201.37 L224.7,199.68 L224.9,197.92 L225.2,196.09 L225.4,194.23 L225.7,192.36 L225.9,190.51 L226.2,188.70 L226.4,186.98 L226.7,185.36 L226.9,183.88 L227.2,182.58 L227.4,181.47 L227.7,180.58 L227.9,179.93 L228.2,179.53 L228.4,179.40 L228.7,179.53 L228.9,179.93 L229.2,180.58 L229.4,181.47 L229.7,182.58 L229.9,183.88 L230.2,185.36 L230.4,186.98 L230.7,188.70 L230.9,190.51 L231.2,192.36 L231.4,194.23 L231.7,196.09 L231.9,197.92 L232.2,199.68 L232.4,201.37 L232.7,202.97 L232.9,204.46 L233.2,205.84 L233.4,207.10 L233.7,208.25 L233.9,209.27 L234.2,210.19 L234.4,210.99 L234.7,211.69 L234.9,212.30 L235.2,212.82 L235.4,213.26 L235.7,213.63 L235.9,213.94 L236.2,214.19 L236.4,214.40 L236.7,214.57 L236.9,214.71 L237.2,214.82 L237.4,214.91 L237.7,214.98 L237.9,215.03 L238.2,215.07 L238.4,215.11 L238.7,215.13 L238.9,215.15 L239.2,215.16 L239.4,215.17 L239.7,215.18 L239.9,215.19 L240.2,215.19 L240.4,215.19 L240.7,215.19 L240.9,215.19 L241.2,215.19 L241.4,215.19 L241.7,215.19 L241.9,215.18 L242.2,215.18 L242.4,215.17 L242.7,215.15 L242.9,215.13 L243.2,215.11 L243.4,215.08 L243.7,215.03 L243.9,214.98 L244.2,214.90 L244.4,214.80 L244.7,214.68 L244.9,214.53 L245.2,214.33 L245.4,214.09 L245.7,213.79 L245.9,213.42 L246.2,212.98 L246.4,212.45 L246.7,211.82 L246.9,211.08 L247.2,210.22 L247.4,209.22 L247.7,208.08 L247.9,206.79 L248.2,205.34 L248.4,203.74 L248.7,201.98 L248.9,200.07 L249.2,198.03 L249.4,195.86 L249.7,193.59 L249.9,191.25 L250.2,188.87 L250.4,186.48 L250.7,184.12 L250.9,181.84 L251.2,179.67 L251.4,177.66 L251.7,175.85 L251.9,174.28 L252.2,172.99 L252.4,172.00 L252.7,171.34 L252.9,171.03 L253.2,171.06 L253.4,171.45 L253.7,172.18 L253.9,173.23 L254.2,174.58 L254.4,176.19 L254.7,178.05 L254.9,180.09 L255.2,182.29 L255.4,184.59 L255.7,186.96 L255.9,189.35 L256.1,191.73 L256.4,194.05 L256.6,196.30 L256.9,198.44 L257.1,200.46 L257.4,202.34 L257.6,204.07 L257.9,205.64 L258.1,207.06 L258.4,208.32 L258.6,209.43 L258.9,210.40 L259.1,211.24 L259.4,211.96 L259.6,212.57 L259.9,213.08 L260.1,213.50 L260.4,213.86 L260.6,214.14 L260.9,214.37 L261.1,214.56 L261.4,214.71 L261.6,214.83 L261.9,214.92 L262.1,214.99 L262.4,215.04 L262.6,215.08 L262.9,215.11 L263.1,215.14 L263.4,215.16 L263.6,215.17 L263.9,215.18 L264.1,215.18 L264.4,215.19 L264.6,215.19 L264.9,215.19 L265.1,215.20 L265.4,215.20 L265.6,215.20 L265.9,215.20 L266.1,215.20 L266.4,215.20 L266.6,215.20 L266.9,215.19 L267.1,215.19 L267.4,215.19 L267.6,215.19 L267.9,215.18 L268.1,215.18 L268.4,215.17 L268.6,215.16 L268.9,215.15 L269.1,215.14 L269.4,215.12 L269.6,215.10 L269.9,215.08 L270.1,215.05 L270.4,215.02 L270.6,214.99 L270.9,214.94 L271.1,214.89 L271.4,214.83 L271.6,214.77 L271.9,214.70 L272.1,214.62 L272.4,214.53 L272.6,214.43 L272.9,214.32 L273.1,214.21 L273.4,214.09 L273.6,213.96 L273.9,213.83 L274.1,213.70 L274.4,213.56 L274.6,213.43 L274.9,213.29 L275.1,213.16 L275.4,213.04 L275.6,212.92 L275.9,212.82 L276.1,212.72 L276.4,212.65 L276.6,212.58 L276.9,212.54 L277.1,212.51 L277.4,212.50 L277.6,212.51 L277.9,212.54 L278.1,212.58 L278.4,212.65 L278.6,212.72 L278.9,212.82 L279.1,212.92 L279.4,213.04 L279.6,213.16 L279.9,213.29 L280.1,213.43 L280.4,213.56 L280.6,213.70 L280.9,213.83 L281.1,213.96 L281.4,214.09 L281.6,214.21 L281.9,214.32 L282.1,214.43 L282.4,214.53 L282.6,214.62 L282.9,214.70 L283.1,214.77 L283.4,214.83 L283.6,214.89 L283.9,214.94 L284.1,214.99 L284.4,215.02 L284.6,215.05 L284.9,215.08 L285.1,215.10 L285.4,215.12 L285.6,215.14 L285.9,215.15 L286.1,215.16 L286.4,215.17 L286.6,215.18 L286.9,215.18 L287.1,215.19 L287.4,215.19 L287.6,215.19 L287.9,215.19 L288.1,215.20 L288.4,215.20 L288.6,215.20 L288.9,215.20 L289.1,215.20 L289.4,215.20" fill="none" stroke="#5050f5" stroke-width="1"/>
<text transform="translate(104.8,173.9) scale(1.07,1)" font-size="10.2" font-family='"Liberation Sans", sans-serif' fill="#111" stroke="#111" stroke-width="0.12">D11S1793 – normal DNA</text>
<rect x="86" y="223.1" width="20.400000000000006" height="9.300000000000011" fill="#f3f3f3" stroke="#3f9f3f" stroke-width="1"/>
<text x="96.20" y="230.40" font-size="7.6" font-family='"Liberation Sans", sans-serif' fill="#333" stroke="#333" stroke-width="0.25" text-anchor="middle" textLength="17.4" lengthAdjust="spacingAndGlyphs">121.6</text>
<rect x="242.3" y="223.1" width="20.69999999999999" height="9.300000000000011" fill="#f3f3f3" stroke="#3f9f3f" stroke-width="1"/>
<text x="252.65" y="230.40" font-size="7.6" font-family='"Liberation Sans", sans-serif' fill="#333" stroke="#333" stroke-width="0.25" text-anchor="middle" textLength="17.4" lengthAdjust="spacingAndGlyphs">134.2</text>
<rect x="92.5" y="236.8" width="6.200000000000003" height="65.0" fill="#e0e0e5"/>
<rect x="251.5" y="236.8" width="5.800000000000011" height="65.0" fill="#e0e0e5"/>
<line x1="31.1" y1="236.8" x2="291.8" y2="236.8" stroke="#222" stroke-width="1.3"/>
<line x1="31.1" y1="301.8" x2="291.8" y2="301.8" stroke="#333" stroke-width="1"/>
<path d="M31.1,295.10 L31.4,295.10 L31.6,295.10 L31.9,295.10 L32.1,295.10 L32.4,295.10 L32.6,295.10 L32.9,295.10 L33.1,295.10 L33.4,295.10 L33.6,295.10 L33.9,295.09 L34.1,295.09 L34.4,295.09 L34.6,295.08 L34.9,295.08 L35.1,295.07 L35.4,295.06 L35.6,295.05 L35.9,295.03 L36.1,295.01 L36.4,294.99 L36.6,294.96 L36.9,294.92 L37.1,294.87 L37.4,294.81 L37.6,294.75 L37.9,294.66 L38.1,294.57 L38.4,294.45 L38.6,294.32 L38.9,294.17 L39.1,294.00 L39.4,293.81 L39.6,293.59 L39.9,293.35 L40.1,293.08 L40.4,292.79 L40.6,292.49 L40.9,292.16 L41.1,291.81 L41.4,291.46 L41.6,291.09 L41.9,290.72 L42.1,290.35 L42.4,289.99 L42.6,289.64 L42.9,289.31 L43.1,289.00 L43.4,288.73 L43.6,288.49 L43.9,288.30 L44.1,288.15 L44.4,288.05 L44.6,288.00 L44.9,288.01 L45.1,288.07 L45.4,288.18 L45.6,288.33 L45.9,288.54 L46.1,288.78 L46.4,289.06 L46.6,289.37 L46.9,289.71 L47.1,290.06 L47.4,290.42 L47.6,290.79 L47.9,291.16 L48.1,291.53 L48.4,291.88 L48.6,292.23 L48.9,292.55 L49.1,292.85 L49.4,293.14 L49.6,293.40 L49.9,293.63 L50.1,293.85 L50.4,294.04 L50.6,294.20 L50.9,294.35 L51.1,294.48 L51.4,294.59 L51.6,294.68 L51.9,294.76 L52.1,294.83 L52.4,294.88 L52.6,294.93 L52.9,294.96 L53.1,294.99 L53.4,295.02 L53.6,295.04 L53.9,295.05 L54.1,295.06 L54.4,295.07 L54.6,295.08 L54.9,295.08 L55.1,295.09 L55.4,295.09 L55.6,295.09 L55.9,295.10 L56.1,295.10 L56.4,295.10 L56.6,295.10 L56.9,295.10 L57.1,295.10 L57.4,295.10 L57.6,295.10 L57.9,295.10 L58.1,295.10 L58.4,295.10 L58.6,295.10 L58.9,295.10 L59.1,295.10 L59.4,295.09 L59.6,295.09 L59.9,295.09 L60.1,295.08 L60.4,295.08 L60.6,295.07 L60.9,295.06 L61.1,295.05 L61.4,295.03 L61.6,295.01 L61.9,294.98 L62.1,294.94 L62.4,294.90 L62.6,294.84 L62.9,294.77 L63.1,294.69 L63.4,294.59 L63.6,294.47 L63.9,294.32 L64.1,294.15 L64.3,293.94 L64.6,293.71 L64.8,293.44 L65.1,293.13 L65.3,292.78 L65.6,292.39 L65.8,291.96 L66.1,291.49 L66.3,290.98 L66.6,290.43 L66.8,289.84 L67.1,289.22 L67.3,288.58 L67.6,287.93 L67.8,287.26 L68.1,286.60 L68.3,285.95 L68.6,285.33 L68.8,284.74 L69.1,284.19 L69.3,283.70 L69.6,283.28 L69.8,282.93 L70.1,282.67 L70.3,282.49 L70.6,282.41 L70.8,282.42 L71.1,282.52 L71.3,282.72 L71.6,283.00 L71.8,283.36 L72.1,283.80 L72.3,284.30 L72.6,284.85 L72.8,285.45 L73.1,286.08 L73.3,286.73 L73.6,287.40 L73.8,288.06 L74.1,288.71 L74.3,289.35 L74.6,289.96 L74.8,290.54 L75.1,291.08 L75.3,291.59 L75.6,292.05 L75.8,292.48 L76.1,292.86 L76.3,293.20 L76.6,293.50 L76.8,293.76 L77.1,293.99 L77.3,294.18 L77.6,294.35 L77.8,294.49 L78.1,294.61 L78.3,294.71 L78.6,294.79 L78.8,294.86 L79.1,294.91 L79.3,294.95 L79.6,294.99 L79.8,295.01 L80.1,295.03 L80.3,295.05 L80.6,295.06 L80.8,295.07 L81.1,295.08 L81.3,295.08 L81.6,295.09 L81.8,295.09 L82.1,295.09 L82.3,295.10 L82.6,295.10 L82.8,295.10 L83.1,295.10 L83.3,295.10 L83.6,295.10 L83.8,295.10 L84.1,295.10 L84.3,295.09 L84.6,295.09 L84.8,295.09 L85.1,295.08 L85.3,295.08 L85.6,295.07 L85.8,295.06 L86.1,295.05 L86.3,295.03 L86.6,295.01 L86.8,294.98 L87.1,294.94 L87.3,294.89 L87.6,294.83 L87.8,294.76 L88.1,294.66 L88.3,294.55 L88.6,294.42 L88.8,294.26 L89.1,294.06 L89.3,293.84 L89.6,293.57 L89.8,293.26 L90.1,292.91 L90.3,292.50 L90.6,292.05 L90.8,291.54 L91.1,290.98 L91.3,290.37 L91.6,289.70 L91.8,288.99 L92.1,288.23 L92.3,287.44 L92.6,286.62 L92.8,285.78 L93.1,284.94 L93.3,284.09 L93.6,283.27 L93.8,282.48 L94.1,281.74 L94.3,281.06 L94.6,280.45 L94.8,279.93 L95.1,279.50 L95.3,279.19 L95.6,278.99 L95.8,278.90 L96.1,278.94 L96.3,279.09 L96.6,279.37 L96.8,279.75 L97.1,280.23 L97.3,280.80 L97.6,281.46 L97.8,282.18 L98.1,282.95 L98.3,283.76 L98.6,284.60 L98.8,285.44 L99.1,286.29 L99.3,287.12 L99.6,287.92 L99.8,288.69 L100.1,289.42 L100.3,290.11 L100.6,290.74 L100.8,291.33 L101.1,291.85 L101.3,292.33 L101.6,292.75 L101.8,293.13 L102.1,293.45 L102.3,293.73 L102.6,293.98 L102.8,294.18 L103.1,294.36 L103.3,294.50 L103.6,294.62 L103.8,294.72 L104.1,294.80 L104.3,294.87 L104.6,294.92 L104.8,294.96 L105.1,294.99 L105.3,295.02 L105.6,295.04 L105.8,295.05 L106.1,295.07 L106.3,295.08 L106.6,295.08 L106.8,295.09 L107.1,295.09 L107.3,295.09 L107.6,295.10 L107.8,295.10 L108.1,295.10 L108.3,295.10 L108.6,295.10 L108.8,295.10 L109.1,295.10 L109.3,295.10 L109.6,295.10 L109.8,295.10 L110.1,295.10 L110.3,295.10 L110.6,295.10 L110.8,295.10 L111.1,295.09 L111.3,295.09 L111.6,295.09 L111.8,295.09 L112.1,295.08 L112.3,295.08 L112.6,295.08 L112.8,295.07 L113.1,295.06 L113.3,295.05 L113.6,295.04 L113.8,295.03 L114.1,295.02 L114.3,295.00 L114.6,294.98 L114.8,294.96 L115.1,294.94 L115.3,294.92 L115.6,294.89 L115.8,294.86 L116.1,294.83 L116.3,294.79 L116.6,294.76 L116.8,294.72 L117.1,294.68 L117.3,294.64 L117.6,294.60 L117.8,294.56 L118.1,294.52 L118.3,294.48 L118.6,294.45 L118.8,294.41 L119.1,294.38 L119.3,294.36 L119.6,294.34 L119.8,294.32 L120.1,294.31 L120.3,294.30 L120.6,294.30 L120.8,294.31 L121.1,294.32 L121.3,294.33 L121.6,294.35 L121.8,294.38 L122.1,294.40 L122.3,294.44 L122.6,294.47 L122.8,294.51 L123.1,294.55 L123.3,294.58 L123.6,294.62 L123.8,294.66 L124.1,294.70 L124.3,294.73 L124.6,294.76 L124.8,294.79 L125.1,294.82 L125.3,294.84 L125.6,294.86 L125.8,294.88 L126.1,294.89 L126.3,294.89 L126.6,294.90 L126.8,294.90 L127.1,294.89 L127.3,294.88 L127.6,294.87 L127.8,294.85 L128.1,294.83 L128.3,294.81 L128.6,294.78 L128.8,294.75 L129.1,294.72 L129.3,294.69 L129.6,294.65 L129.8,294.62 L130.1,294.59 L130.3,294.55 L130.6,294.52 L130.8,294.50 L131.1,294.47 L131.3,294.45 L131.6,294.43 L131.8,294.42 L132.1,294.41 L132.3,294.40 L132.6,294.40 L132.8,294.40 L133.1,294.41 L133.3,294.43 L133.6,294.45 L133.8,294.47 L134.1,294.49 L134.3,294.52 L134.6,294.55 L134.8,294.58 L135.1,294.62 L135.3,294.65 L135.6,294.69 L135.8,294.72 L136.1,294.76 L136.3,294.79 L136.6,294.82 L136.8,294.86 L137.1,294.88 L137.3,294.91 L137.6,294.93 L137.8,294.96 L138.1,294.98 L138.3,295.00 L138.6,295.01 L138.8,295.03 L139.1,295.04 L139.3,295.05 L139.6,295.06 L139.8,295.07 L140.1,295.07 L140.3,295.08 L140.6,295.08 L140.8,295.09 L141.1,295.09 L141.3,295.09 L141.6,295.09 L141.8,295.09 L142.1,295.10 L142.3,295.10 L142.6,295.10 L142.8,295.10 L143.1,295.10 L143.3,295.10 L143.6,295.10 L143.8,295.10 L144.1,295.10 L144.3,295.10 L144.6,295.10 L144.8,295.10 L145.1,295.10 L145.3,295.10 L145.6,295.10 L145.8,295.09 L146.1,295.09 L146.3,295.09 L146.6,295.09 L146.8,295.08 L147.1,295.07 L147.3,295.07 L147.6,295.06 L147.8,295.05 L148.1,295.03 L148.3,295.01 L148.6,294.99 L148.8,294.96 L149.1,294.93 L149.3,294.90 L149.6,294.85 L149.8,294.80 L150.1,294.74 L150.3,294.67 L150.6,294.59 L150.8,294.49 L151.1,294.39 L151.3,294.28 L151.6,294.15 L151.8,294.02 L152.1,293.87 L152.3,293.71 L152.6,293.54 L152.8,293.36 L153.1,293.18 L153.3,292.99 L153.6,292.80 L153.8,292.60 L154.1,292.41 L154.3,292.23 L154.6,292.06 L154.8,291.89 L155.1,291.75 L155.3,291.62 L155.6,291.51 L155.8,291.42 L156.1,291.35 L156.3,291.31 L156.6,291.30 L156.8,291.31 L157.1,291.35 L157.3,291.42 L157.6,291.51 L157.8,291.62 L158.1,291.75 L158.3,291.89 L158.6,292.06 L158.8,292.23 L159.1,292.41 L159.3,292.60 L159.6,292.80 L159.8,292.99 L160.1,293.18 L160.3,293.36 L160.6,293.54 L160.8,293.71 L161.1,293.87 L161.3,294.02 L161.6,294.15 L161.8,294.28 L162.1,294.39 L162.3,294.49 L162.6,294.59 L162.8,294.67 L163.1,294.74 L163.3,294.80 L163.6,294.85 L163.8,294.90 L164.1,294.93 L164.3,294.96 L164.6,294.99 L164.8,295.01 L165.1,295.03 L165.3,295.05 L165.6,295.06 L165.8,295.07 L166.1,295.07 L166.3,295.08 L166.6,295.09 L166.8,295.09 L167.1,295.09 L167.3,295.09 L167.6,295.10 L167.8,295.10 L168.1,295.10 L168.3,295.10 L168.6,295.10 L168.8,295.10 L169.1,295.10 L169.3,295.10 L169.6,295.10 L169.8,295.10 L170.1,295.10 L170.3,295.09 L170.6,295.09 L170.8,295.09 L171.1,295.08 L171.3,295.08 L171.6,295.07 L171.8,295.06 L172.1,295.05 L172.3,295.03 L172.6,295.01 L172.8,294.98 L173.1,294.95 L173.3,294.91 L173.6,294.86 L173.8,294.79 L174.1,294.72 L174.3,294.63 L174.6,294.52 L174.8,294.40 L175.1,294.26 L175.3,294.09 L175.6,293.90 L175.8,293.68 L176.1,293.44 L176.3,293.17 L176.6,292.87 L176.8,292.54 L177.1,292.19 L177.3,291.82 L177.6,291.42 L177.8,291.01 L178.1,290.58 L178.3,290.15 L178.6,289.72 L178.8,289.29 L179.1,288.88 L179.3,288.48 L179.6,288.11 L179.8,287.78 L180.1,287.48 L180.3,287.23 L180.6,287.04 L180.8,286.90 L181.1,286.82 L181.3,286.80 L181.6,286.84 L181.8,286.95 L182.1,287.11 L182.3,287.33 L182.6,287.59 L182.8,287.90 L183.1,288.25 L183.3,288.63 L183.6,289.04 L183.8,289.46 L184.1,289.89 L184.3,290.33 L184.6,290.76 L184.8,291.18 L185.1,291.58 L185.3,291.97 L185.6,292.34 L185.8,292.68 L186.1,292.99 L186.3,293.28 L186.6,293.54 L186.8,293.77 L187.1,293.98 L187.3,294.16 L187.6,294.32 L187.8,294.45 L188.1,294.57 L188.3,294.67 L188.6,294.75 L188.8,294.82 L189.1,294.88 L189.3,294.92 L189.6,294.96 L189.8,294.99 L190.1,295.02 L190.3,295.04 L190.6,295.05 L190.8,295.06 L191.1,295.07 L191.3,295.08 L191.6,295.08 L191.8,295.09 L192.1,295.09 L192.3,295.09 L192.6,295.10 L192.8,295.10 L193.1,295.10 L193.3,295.10 L193.6,295.10 L193.8,295.09 L194.1,295.09 L194.3,295.09 L194.6,295.09 L194.8,295.08 L195.1,295.08 L195.3,295.07 L195.6,295.06 L195.8,295.04 L196.1,295.02 L196.3,295.00 L196.6,294.96 L196.8,294.92 L197.1,294.87 L197.3,294.80 L197.6,294.72 L197.8,294.62 L198.1,294.49 L198.3,294.34 L198.6,294.16 L198.8,293.94 L199.1,293.68 L199.3,293.38 L199.6,293.03 L199.8,292.63 L200.1,292.17 L200.3,291.65 L200.6,291.07 L200.8,290.43 L201.1,289.73 L201.3,288.96 L201.6,288.14 L201.8,287.27 L202.1,286.35 L202.3,285.40 L202.6,284.43 L202.8,283.44 L203.1,282.46 L203.3,281.49 L203.6,280.56 L203.8,279.68 L204.1,278.87 L204.3,278.14 L204.6,277.51 L204.8,276.99 L205.1,276.60 L205.3,276.34 L205.6,276.21 L205.8,276.23 L206.1,276.38 L206.3,276.67 L206.6,277.09 L206.8,277.63 L207.1,278.28 L207.3,279.02 L207.6,279.85 L207.8,280.74 L208.1,281.68 L208.3,282.65 L208.6,283.64 L208.8,284.62 L209.1,285.59 L209.3,286.54 L209.6,287.45 L209.8,288.31 L210.1,289.12 L210.3,289.87 L210.6,290.57 L210.8,291.19 L211.1,291.76 L211.3,292.27 L211.6,292.71 L211.8,293.11 L212.1,293.44 L212.3,293.74 L212.6,293.99 L212.8,294.20 L213.1,294.37 L213.3,294.52 L213.6,294.64 L213.8,294.74 L214.1,294.82 L214.3,294.88 L214.6,294.93 L214.8,294.97 L215.1,295.00 L215.3,295.03 L215.6,295.04 L215.8,295.06 L216.1,295.07 L216.3,295.08 L216.6,295.08 L216.8,295.09 L217.1,295.09 L217.3,295.09 L217.6,295.09 L217.8,295.09 L218.1,295.09 L218.3,295.09 L218.6,295.09 L218.8,295.09 L219.1,295.08 L219.3,295.07 L219.6,295.06 L219.8,295.05 L220.1,295.03 L220.3,295.00 L220.6,294.97 L220.8,294.93 L221.1,294.87 L221.3,294.80 L221.6,294.72 L221.8,294.60 L222.1,294.46 L222.3,294.29 L222.6,294.08 L222.8,293.82 L223.1,293.51 L223.3,293.14 L223.6,292.70 L223.8,292.18 L224.1,291.58 L224.3,290.88 L224.6,290.09 L224.8,289.18 L225.1,288.17 L225.3,287.04 L225.6,285.80 L225.8,284.44 L226.1,282.98 L226.3,281.42 L226.6,279.77 L226.8,278.05 L227.1,276.28 L227.3,274.48 L227.6,272.67 L227.8,270.88 L228.1,269.15 L228.3,267.50 L228.6,265.96 L228.8,264.57 L229.1,263.34 L229.3,262.31 L229.6,261.49 L229.8,260.91 L230.1,260.58 L230.3,260.51 L230.6,260.68 L230.8,261.12 L231.1,261.79 L231.3,262.70 L231.6,263.81 L231.8,265.11 L232.1,266.56 L232.3,268.15 L232.6,269.84 L232.8,271.59 L233.1,273.39 L233.3,275.20 L233.6,276.99 L233.8,278.74 L234.1,280.44 L234.3,282.05 L234.6,283.57 L234.8,285.00 L235.1,286.31 L235.3,287.50 L235.6,288.59 L235.8,289.56 L236.1,290.42 L236.3,291.17 L236.6,291.83 L236.8,292.40 L237.1,292.89 L237.3,293.30 L237.6,293.64 L237.8,293.93 L238.1,294.17 L238.3,294.37 L238.6,294.52 L238.8,294.65 L239.1,294.75 L239.3,294.83 L239.6,294.90 L239.8,294.95 L240.1,294.99 L240.3,295.01 L240.6,295.04 L240.8,295.05 L241.1,295.07 L241.3,295.07 L241.6,295.08 L241.8,295.09 L242.1,295.09 L242.3,295.09 L242.6,295.09 L242.8,295.09 L243.1,295.09 L243.3,295.08 L243.6,295.08 L243.8,295.07 L244.1,295.06 L244.3,295.04 L244.6,295.02 L244.8,294.99 L245.1,294.95 L245.3,294.90 L245.6,294.83 L245.8,294.74 L246.1,294.64 L246.3,294.50 L246.6,294.32 L246.8,294.11 L247.1,293.84 L247.3,293.51 L247.6,293.12 L247.8,292.65 L248.1,292.08 L248.3,291.41 L248.6,290.64 L248.8,289.74 L249.1,288.70 L249.3,287.53 L249.6,286.21 L249.8,284.73 L250.1,283.11 L250.3,281.34 L250.6,279.43 L250.8,277.39 L251.1,275.24 L251.3,273.00 L251.6,270.69 L251.8,268.35 L252.1,266.01 L252.3,263.71 L252.6,261.48 L252.8,259.38 L253.1,257.43 L253.3,255.68 L253.6,254.17 L253.8,252.92 L254.1,251.97 L254.3,251.33 L254.6,251.03 L254.8,251.06 L255.1,251.43 L255.3,252.13 L255.6,253.14 L255.8,254.45 L256.1,256.01 L256.4,257.80 L256.6,259.79 L256.9,261.92 L257.1,264.16 L257.4,266.48 L257.6,268.82 L257.9,271.16 L258.1,273.45 L258.4,275.68 L258.6,277.81 L258.9,279.82 L259.1,281.71 L259.4,283.45 L259.6,285.04 L259.9,286.48 L260.1,287.77 L260.4,288.92 L260.6,289.93 L260.9,290.80 L261.1,291.56 L261.4,292.20 L261.6,292.75 L261.9,293.20 L262.1,293.58 L262.4,293.90 L262.6,294.15 L262.9,294.36 L263.1,294.53 L263.4,294.66 L263.6,294.76 L263.9,294.85 L264.1,294.91 L264.4,294.96 L264.6,294.99 L264.9,295.02 L265.1,295.04 L265.4,295.06 L265.6,295.07 L265.9,295.08 L266.1,295.08 L266.4,295.09 L266.6,295.09 L266.9,295.09 L267.1,295.10 L267.4,295.10 L267.6,295.10 L267.9,295.10 L268.1,295.10 L268.4,295.09 L268.6,295.09 L268.9,295.09 L269.1,295.09 L269.4,295.09 L269.6,295.08 L269.9,295.08 L270.1,295.07 L270.4,295.06 L270.6,295.05 L270.9,295.04 L271.1,295.02 L271.4,295.00 L271.6,294.98 L271.9,294.95 L272.1,294.92 L272.4,294.89 L272.6,294.84 L272.9,294.79 L273.1,294.74 L273.4,294.68 L273.6,294.61 L273.9,294.53 L274.1,294.44 L274.4,294.35 L274.6,294.25 L274.9,294.14 L275.1,294.03 L275.4,293.91 L275.6,293.78 L275.9,293.66 L276.1,293.53 L276.4,293.41 L276.6,293.28 L276.9,293.17 L277.1,293.05 L277.4,292.95 L277.6,292.86 L277.9,292.78 L278.1,292.71 L278.4,292.66 L278.6,292.62 L278.9,292.60 L279.1,292.60 L279.4,292.62 L279.6,292.65 L279.9,292.70 L280.1,292.76 L280.4,292.84 L280.6,292.93 L280.9,293.03 L281.1,293.14 L281.4,293.26 L281.6,293.38 L281.9,293.51 L282.1,293.63 L282.4,293.76 L282.6,293.88 L282.9,294.00 L283.1,294.12 L283.4,294.23 L283.6,294.33 L283.9,294.42 L284.1,294.51 L284.4,294.59 L284.6,294.66 L284.9,294.73 L285.1,294.78 L285.4,294.83 L285.6,294.88 L285.9,294.92 L286.1,294.95 L286.4,294.98 L286.6,295.00 L286.9,295.02 L287.1,295.03 L287.4,295.05 L287.6,295.06 L287.9,295.07 L288.1,295.07 L288.4,295.08 L288.6,295.09 L288.9,295.09 L289.1,295.09 L289.4,295.09 L289.6,295.10 L289.9,295.10 L290.1,295.10 L290.4,295.10 L290.6,295.10 L290.9,295.10 L291.1,295.10 L291.4,295.10 L291.6,295.10 L291.9,295.10" fill="none" stroke="#5050f5" stroke-width="1"/>
<text transform="translate(105.2,254.8) scale(1.07,1)" font-size="10.2" font-family='"Liberation Sans", sans-serif' fill="#111" stroke="#111" stroke-width="0.12">D11S1793 – tumor DNA</text>
<rect x="86" y="302.9" width="19.299999999999997" height="9.200000000000045" fill="#f3f3f3" stroke="#3f9f3f" stroke-width="1"/>
<text x="95.65" y="310.20" font-size="7.6" font-family='"Liberation Sans", sans-serif' fill="#333" stroke="#333" stroke-width="0.25" text-anchor="middle" textLength="17.4" lengthAdjust="spacingAndGlyphs">121.6</text>
<rect x="244.9" y="303.2" width="19.599999999999994" height="8.800000000000011" fill="#f3f3f3" stroke="#3f9f3f" stroke-width="1"/>
<text x="254.70" y="310.50" font-size="7.6" font-family='"Liberation Sans", sans-serif' fill="#333" stroke="#333" stroke-width="0.25" text-anchor="middle" textLength="17.4" lengthAdjust="spacingAndGlyphs">134.2</text>
<rect x="403.5" y="157.3" width="9.399999999999977" height="63.89999999999998" fill="#e0e0e5"/>
<rect x="518.2" y="157.3" width="8.5" height="63.89999999999998" fill="#e0e0e5"/>
<line x1="309.6" y1="157.3" x2="551.9" y2="157.3" stroke="#222" stroke-width="1.3"/>
<line x1="309.6" y1="221.2" x2="551.9" y2="221.2" stroke="#333" stroke-width="1"/>
<path d="M309.6,214.90 L309.9,214.90 L310.1,214.90 L310.4,214.90 L310.6,214.90 L310.9,214.90 L311.1,214.90 L311.4,214.90 L311.6,214.90 L311.9,214.90 L312.1,214.90 L312.4,214.90 L312.6,214.90 L312.9,214.90 L313.1,214.90 L313.4,214.90 L313.6,214.90 L313.9,214.90 L314.1,214.90 L314.4,214.90 L314.6,214.90 L314.9,214.90 L315.1,214.90 L315.4,214.90 L315.6,214.90 L315.9,214.90 L316.1,214.90 L316.4,214.90 L316.6,214.89 L316.9,214.89 L317.1,214.89 L317.4,214.89 L317.6,214.89 L317.9,214.88 L318.1,214.88 L318.4,214.88 L318.6,214.87 L318.9,214.86 L319.1,214.86 L319.4,214.85 L319.6,214.83 L319.9,214.82 L320.1,214.80 L320.4,214.79 L320.6,214.76 L320.9,214.74 L321.1,214.71 L321.4,214.67 L321.6,214.63 L321.9,214.59 L322.1,214.54 L322.4,214.48 L322.6,214.41 L322.9,214.34 L323.1,214.25 L323.4,214.16 L323.6,214.06 L323.9,213.94 L324.1,213.82 L324.4,213.68 L324.6,213.53 L324.9,213.37 L325.1,213.20 L325.4,213.02 L325.6,212.82 L325.9,212.62 L326.1,212.40 L326.4,212.17 L326.6,211.94 L326.9,211.69 L327.1,211.44 L327.4,211.18 L327.6,210.92 L327.9,210.66 L328.1,210.40 L328.4,210.14 L328.6,209.89 L328.9,209.64 L329.1,209.41 L329.4,209.18 L329.6,208.97 L329.9,208.77 L330.1,208.60 L330.4,208.44 L330.6,208.30 L330.9,208.19 L331.1,208.10 L331.4,208.04 L331.6,208.01 L331.9,208.00 L332.1,208.02 L332.4,208.06 L332.6,208.14 L332.9,208.23 L333.1,208.35 L333.4,208.50 L333.6,208.66 L333.9,208.85 L334.1,209.05 L334.4,209.27 L334.6,209.50 L334.9,209.74 L335.1,209.99 L335.4,210.25 L335.6,210.51 L335.9,210.77 L336.1,211.03 L336.4,211.29 L336.6,211.54 L336.9,211.79 L337.1,212.03 L337.4,212.26 L337.6,212.49 L337.9,212.70 L338.1,212.90 L338.4,213.09 L338.6,213.27 L338.9,213.44 L339.1,213.59 L339.4,213.74 L339.6,213.87 L339.9,213.99 L340.1,214.10 L340.4,214.19 L340.6,214.28 L340.9,214.36 L341.1,214.43 L341.4,214.49 L341.6,214.54 L341.9,214.59 L342.1,214.63 L342.4,214.66 L342.6,214.68 L342.9,214.70 L343.1,214.72 L343.4,214.72 L343.6,214.73 L343.9,214.72 L344.1,214.72 L344.4,214.70 L344.6,214.69 L344.9,214.66 L345.1,214.64 L345.4,214.60 L345.6,214.57 L345.9,214.52 L346.1,214.48 L346.4,214.43 L346.6,214.38 L346.9,214.32 L347.1,214.26 L347.4,214.20 L347.6,214.15 L347.9,214.09 L348.1,214.03 L348.4,213.97 L348.6,213.92 L348.9,213.87 L349.1,213.82 L349.4,213.78 L349.6,213.75 L349.9,213.73 L350.1,213.71 L350.4,213.70 L350.6,213.70 L350.9,213.71 L351.1,213.72 L351.4,213.75 L351.6,213.78 L351.9,213.82 L352.1,213.86 L352.4,213.91 L352.6,213.96 L352.9,214.02 L353.1,214.08 L353.4,214.13 L353.6,214.20 L353.9,214.26 L354.1,214.31 L354.4,214.37 L354.6,214.42 L354.9,214.48 L355.1,214.52 L355.4,214.57 L355.6,214.61 L355.9,214.64 L356.1,214.67 L356.4,214.70 L356.6,214.72 L356.9,214.74 L357.1,214.75 L357.4,214.76 L357.6,214.76 L357.9,214.76 L358.1,214.75 L358.4,214.74 L358.6,214.72 L358.9,214.69 L359.1,214.66 L359.4,214.62 L359.6,214.57 L359.9,214.50 L360.1,214.43 L360.4,214.35 L360.6,214.25 L360.9,214.13 L361.1,214.00 L361.4,213.85 L361.6,213.68 L361.9,213.49 L362.1,213.27 L362.4,213.03 L362.6,212.76 L362.9,212.46 L363.1,212.13 L363.4,211.77 L363.6,211.37 L363.9,210.94 L364.1,210.48 L364.4,209.99 L364.6,209.46 L364.9,208.89 L365.1,208.30 L365.4,207.68 L365.6,207.03 L365.9,206.36 L366.1,205.67 L366.4,204.97 L366.6,204.25 L366.9,203.54 L367.1,202.82 L367.4,202.11 L367.6,201.41 L367.9,200.74 L368.1,200.09 L368.4,199.47 L368.6,198.90 L368.9,198.37 L369.1,197.89 L369.4,197.48 L369.6,197.12 L369.9,196.83 L370.1,196.62 L370.4,196.47 L370.6,196.41 L370.9,196.41 L371.1,196.50 L371.4,196.66 L371.6,196.89 L371.9,197.19 L372.1,197.55 L372.4,197.98 L372.6,198.47 L372.9,199.01 L373.1,199.59 L373.4,200.21 L373.6,200.87 L373.9,201.55 L374.1,202.25 L374.4,202.96 L374.6,203.68 L374.9,204.40 L375.1,205.11 L375.4,205.81 L375.6,206.50 L375.9,207.16 L376.1,207.81 L376.4,208.42 L376.6,209.01 L376.9,209.56 L377.1,210.09 L377.4,210.58 L377.6,211.03 L377.9,211.45 L378.1,211.84 L378.4,212.20 L378.6,212.52 L378.9,212.82 L379.1,213.08 L379.4,213.32 L379.6,213.53 L379.9,213.72 L380.1,213.89 L380.4,214.03 L380.6,214.16 L380.9,214.27 L381.1,214.37 L381.4,214.46 L381.6,214.53 L381.9,214.59 L382.1,214.64 L382.4,214.69 L382.6,214.72 L382.9,214.76 L383.1,214.78 L383.4,214.80 L383.6,214.82 L383.9,214.84 L384.1,214.85 L384.4,214.86 L384.6,214.87 L384.9,214.87 L385.1,214.88 L385.4,214.88 L385.6,214.89 L385.9,214.89 L386.1,214.89 L386.4,214.89 L386.6,214.90 L386.9,214.90 L387.1,214.90 L387.4,214.90 L387.6,214.90 L387.9,214.90 L388.1,214.90 L388.4,214.90 L388.6,214.90 L388.9,214.90 L389.1,214.90 L389.4,214.90 L389.6,214.90 L389.9,214.90 L390.1,214.90 L390.4,214.90 L390.6,214.90 L390.9,214.90 L391.1,214.90 L391.4,214.90 L391.6,214.90 L391.9,214.90 L392.1,214.90 L392.4,214.89 L392.6,214.89 L392.9,214.89 L393.1,214.89 L393.4,214.88 L393.6,214.88 L393.9,214.87 L394.1,214.86 L394.4,214.85 L394.6,214.84 L394.9,214.83 L395.1,214.81 L395.4,214.79 L395.6,214.76 L395.9,214.73 L396.1,214.69 L396.4,214.64 L396.6,214.59 L396.9,214.52 L397.1,214.44 L397.4,214.34 L397.6,214.23 L397.9,214.10 L398.1,213.95 L398.4,213.77 L398.6,213.57 L398.9,213.33 L399.1,213.06 L399.4,212.74 L399.6,212.39 L399.9,211.99 L400.1,211.54 L400.4,211.03 L400.6,210.47 L400.9,209.84 L401.1,209.15 L401.4,208.38 L401.6,207.55 L401.9,206.64 L402.1,205.65 L402.4,204.58 L402.6,203.44 L402.9,202.22 L403.1,200.93 L403.4,199.56 L403.6,198.12 L403.9,196.63 L404.1,195.07 L404.4,193.47 L404.6,191.83 L404.9,190.15 L405.1,188.47 L405.4,186.77 L405.6,185.09 L405.9,183.42 L406.1,181.80 L406.4,180.22 L406.6,178.71 L406.9,177.29 L407.1,175.95 L407.4,174.73 L407.6,173.64 L407.9,172.67 L408.1,171.86 L408.4,171.20 L408.6,170.70 L408.9,170.37 L409.1,170.21 L409.4,170.23 L409.6,170.42 L409.9,170.79 L410.1,171.32 L410.4,172.01 L410.6,172.86 L410.9,173.85 L411.1,174.97 L411.4,176.21 L411.6,177.56 L411.9,179.01 L412.1,180.53 L412.4,182.12 L412.6,183.75 L412.9,185.42 L413.1,187.11 L413.4,188.80 L413.6,190.49 L413.9,192.16 L414.1,193.79 L414.4,195.39 L414.6,196.93 L414.9,198.42 L415.1,199.84 L415.4,201.19 L415.6,202.47 L415.9,203.68 L416.1,204.80 L416.4,205.85 L416.6,206.83 L416.9,207.72 L417.1,208.54 L417.4,209.29 L417.6,209.97 L417.9,210.59 L418.1,211.14 L418.4,211.63 L418.6,212.07 L418.9,212.47 L419.1,212.81 L419.4,213.11 L419.6,213.38 L419.9,213.61 L420.1,213.81 L420.4,213.98 L420.6,214.13 L420.9,214.26 L421.1,214.36 L421.4,214.46 L421.6,214.53 L421.9,214.60 L422.1,214.65 L422.4,214.70 L422.6,214.74 L422.9,214.77 L423.1,214.79 L423.4,214.81 L423.6,214.83 L423.9,214.85 L424.1,214.86 L424.4,214.87 L424.6,214.87 L424.9,214.88 L425.1,214.88 L425.4,214.89 L425.6,214.89 L425.9,214.89 L426.1,214.89 L426.4,214.90 L426.6,214.90 L426.9,214.90 L427.1,214.90 L427.4,214.90 L427.6,214.90 L427.9,214.90 L428.1,214.90 L428.4,214.90 L428.6,214.90 L428.9,214.90 L429.1,214.90 L429.4,214.90 L429.6,214.90 L429.9,214.90 L430.1,214.90 L430.4,214.90 L430.6,214.90 L430.9,214.90 L431.1,214.90 L431.4,214.90 L431.6,214.90 L431.9,214.90 L432.1,214.90 L432.4,214.89 L432.6,214.89 L432.9,214.89 L433.1,214.89 L433.4,214.89 L433.6,214.88 L433.9,214.88 L434.1,214.88 L434.4,214.87 L434.6,214.87 L434.9,214.86 L435.1,214.85 L435.4,214.84 L435.6,214.83 L435.9,214.82 L436.1,214.80 L436.4,214.79 L436.6,214.77 L436.9,214.74 L437.1,214.72 L437.4,214.69 L437.6,214.66 L437.9,214.62 L438.1,214.58 L438.4,214.54 L438.6,214.49 L438.9,214.43 L439.1,214.37 L439.4,214.31 L439.6,214.24 L439.9,214.16 L440.1,214.07 L440.4,213.98 L440.6,213.89 L440.9,213.79 L441.1,213.68 L441.4,213.57 L441.6,213.45 L441.9,213.32 L442.1,213.19 L442.4,213.06 L442.6,212.93 L442.9,212.79 L443.1,212.65 L443.4,212.51 L443.6,212.37 L443.9,212.23 L444.1,212.09 L444.4,211.96 L444.6,211.83 L444.9,211.70 L445.1,211.59 L445.4,211.48 L445.6,211.38 L445.9,211.29 L446.1,211.21 L446.4,211.14 L446.6,211.09 L446.9,211.05 L447.1,211.02 L447.4,211.00 L447.6,211.00 L447.9,211.01 L448.1,211.04 L448.4,211.08 L448.6,211.13 L448.9,211.20 L449.1,211.27 L449.4,211.36 L449.6,211.46 L449.9,211.57 L450.1,211.68 L450.4,211.80 L450.6,211.93 L450.9,212.06 L451.1,212.20 L451.4,212.34 L451.6,212.48 L451.9,212.62 L452.1,212.76 L452.4,212.90 L452.6,213.03 L452.9,213.17 L453.1,213.30 L453.4,213.42 L453.6,213.54 L453.9,213.66 L454.1,213.77 L454.4,213.87 L454.6,213.97 L454.9,214.06 L455.1,214.14 L455.4,214.22 L455.6,214.29 L455.9,214.36 L456.1,214.42 L456.4,214.48 L456.6,214.53 L456.9,214.57 L457.1,214.61 L457.4,214.65 L457.6,214.68 L457.9,214.71 L458.1,214.74 L458.4,214.76 L458.6,214.78 L458.9,214.80 L459.1,214.81 L459.4,214.83 L459.6,214.84 L459.9,214.85 L460.1,214.86 L460.4,214.86 L460.6,214.87 L460.9,214.88 L461.1,214.88 L461.4,214.88 L461.6,214.89 L461.9,214.89 L462.1,214.89 L462.4,214.89 L462.6,214.89 L462.9,214.90 L463.1,214.90 L463.4,214.90 L463.6,214.90 L463.9,214.90 L464.1,214.90 L464.4,214.90 L464.6,214.90 L464.9,214.90 L465.1,214.90 L465.4,214.90 L465.6,214.90 L465.9,214.90 L466.1,214.90 L466.4,214.90 L466.6,214.90 L466.9,214.90 L467.1,214.90 L467.4,214.90 L467.6,214.90 L467.9,214.90 L468.1,214.90 L468.4,214.90 L468.6,214.90 L468.9,214.90 L469.1,214.90 L469.4,214.90 L469.6,214.90 L469.9,214.90 L470.1,214.90 L470.4,214.90 L470.6,214.90 L470.9,214.89 L471.1,214.89 L471.4,214.89 L471.6,214.89 L471.9,214.89 L472.1,214.88 L472.4,214.88 L472.6,214.87 L472.9,214.87 L473.1,214.86 L473.4,214.85 L473.6,214.84 L473.9,214.83 L474.1,214.81 L474.4,214.80 L474.6,214.78 L474.9,214.75 L475.1,214.73 L475.4,214.70 L475.6,214.66 L475.9,214.62 L476.1,214.58 L476.4,214.53 L476.6,214.47 L476.9,214.41 L477.1,214.34 L477.4,214.26 L477.6,214.17 L477.9,214.07 L478.1,213.97 L478.4,213.86 L478.6,213.73 L478.9,213.60 L479.1,213.46 L479.4,213.31 L479.6,213.15 L479.9,212.98 L480.1,212.80 L480.4,212.62 L480.6,212.43 L480.9,212.23 L481.1,212.03 L481.4,211.83 L481.6,211.62 L481.9,211.42 L482.1,211.22 L482.4,211.02 L482.6,210.82 L482.9,210.64 L483.1,210.46 L483.4,210.29 L483.6,210.13 L483.9,209.99 L484.1,209.87 L484.4,209.76 L484.6,209.67 L484.9,209.59 L485.1,209.54 L485.4,209.51 L485.6,209.50 L485.9,209.51 L486.1,209.54 L486.4,209.59 L486.6,209.67 L486.9,209.76 L487.1,209.87 L487.4,209.99 L487.6,210.13 L487.9,210.29 L488.1,210.46 L488.4,210.64 L488.6,210.82 L488.9,211.02 L489.1,211.22 L489.4,211.42 L489.6,211.62 L489.9,211.83 L490.1,212.03 L490.4,212.23 L490.6,212.43 L490.9,212.62 L491.1,212.80 L491.4,212.98 L491.6,213.15 L491.9,213.31 L492.1,213.46 L492.4,213.60 L492.6,213.73 L492.9,213.86 L493.1,213.97 L493.4,214.07 L493.6,214.17 L493.9,214.26 L494.1,214.34 L494.4,214.41 L494.6,214.47 L494.9,214.53 L495.1,214.58 L495.4,214.62 L495.6,214.66 L495.9,214.70 L496.1,214.73 L496.4,214.75 L496.6,214.78 L496.9,214.80 L497.1,214.81 L497.4,214.83 L497.6,214.84 L497.9,214.85 L498.1,214.86 L498.4,214.87 L498.6,214.87 L498.9,214.88 L499.1,214.88 L499.4,214.89 L499.6,214.89 L499.9,214.89 L500.1,214.89 L500.4,214.89 L500.6,214.90 L500.9,214.90 L501.1,214.90 L501.4,214.90 L501.6,214.90 L501.9,214.90 L502.1,214.90 L502.4,214.90 L502.6,214.90 L502.9,214.90 L503.1,214.90 L503.4,214.90 L503.6,214.90 L503.9,214.90 L504.1,214.90 L504.4,214.90 L504.6,214.90 L504.9,214.90 L505.1,214.90 L505.4,214.90 L505.6,214.89 L505.9,214.89 L506.1,214.89 L506.4,214.89 L506.6,214.89 L506.9,214.89 L507.1,214.88 L507.4,214.88 L507.6,214.87 L507.9,214.87 L508.1,214.86 L508.4,214.85 L508.6,214.84 L508.9,214.83 L509.1,214.82 L509.4,214.80 L509.6,214.79 L509.9,214.77 L510.1,214.74 L510.4,214.72 L510.6,214.68 L510.9,214.65 L511.1,214.61 L511.4,214.56 L511.6,214.51 L511.9,214.45 L512.1,214.38 L512.4,214.30 L512.6,214.22 L512.9,214.12 L513.1,214.02 L513.4,213.91 L513.6,213.78 L513.9,213.64 L514.1,213.49 L514.4,213.33 L514.6,213.15 L514.9,212.97 L515.1,212.76 L515.4,212.55 L515.6,212.32 L515.9,212.07 L516.1,211.82 L516.4,211.55 L516.6,211.27 L516.9,210.97 L517.1,210.67 L517.4,210.36 L517.6,210.05 L517.9,209.73 L518.1,209.40 L518.4,209.07 L518.6,208.75 L518.9,208.42 L519.1,208.10 L519.4,207.79 L519.6,207.49 L519.9,207.20 L520.1,206.92 L520.4,206.66 L520.6,206.42 L520.9,206.20 L521.1,206.01 L521.4,205.84 L521.6,205.69 L521.9,205.58 L522.1,205.49 L522.4,205.43 L522.6,205.40 L522.9,205.41 L523.1,205.44 L523.4,205.50 L523.6,205.60 L523.9,205.72 L524.1,205.87 L524.4,206.05 L524.6,206.25 L524.9,206.47 L525.1,206.71 L525.4,206.98 L525.6,207.25 L525.9,207.55 L526.1,207.85 L526.4,208.17 L526.6,208.49 L526.9,208.81 L527.1,209.14 L527.4,209.47 L527.6,209.79 L527.9,210.11 L528.1,210.43 L528.4,210.73 L528.6,211.03 L528.9,211.32 L529.1,211.60 L529.4,211.87 L529.6,212.12 L529.9,212.36 L530.1,212.59 L530.4,212.80 L530.6,213.00 L530.9,213.19 L531.1,213.36 L531.4,213.52 L531.6,213.67 L531.9,213.81 L532.1,213.93 L532.4,214.04 L532.6,214.14 L532.9,214.24 L533.1,214.32 L533.4,214.39 L533.6,214.46 L533.9,214.52 L534.1,214.57 L534.4,214.61 L534.6,214.65 L534.9,214.69 L535.1,214.72 L535.4,214.75 L535.6,214.77 L535.9,214.79 L536.1,214.81 L536.4,214.82 L536.6,214.84 L536.9,214.85 L537.1,214.86 L537.4,214.86 L537.6,214.87 L537.9,214.87 L538.1,214.88 L538.4,214.88 L538.6,214.89 L538.9,214.89 L539.1,214.89 L539.4,214.89 L539.6,214.89 L539.9,214.90 L540.1,214.90 L540.4,214.90 L540.6,214.90 L540.9,214.90 L541.1,214.90 L541.4,214.90 L541.6,214.90 L541.9,214.90 L542.1,214.90 L542.4,214.90 L542.6,214.90 L542.9,214.90 L543.1,214.90 L543.4,214.90 L543.6,214.90 L543.9,214.90 L544.1,214.90 L544.4,214.90 L544.6,214.90 L544.9,214.90 L545.1,214.90 L545.4,214.90 L545.6,214.90 L545.9,214.90 L546.1,214.90 L546.4,214.90 L546.6,214.90 L546.9,214.90 L547.1,214.90 L547.4,214.90 L547.6,214.90 L547.9,214.90 L548.1,214.90 L548.4,214.90 L548.6,214.90 L548.9,214.90 L549.1,214.90 L549.4,214.90 L549.6,214.90 L549.9,214.90 L550.1,214.90 L550.4,214.90 L550.6,214.90 L550.9,214.90 L551.1,214.90 L551.4,214.90 L551.6,214.90 L551.9,214.90" fill="none" stroke="#45a545" stroke-width="1"/>
<text transform="translate(423.0,174.6) scale(1.07,1)" font-size="10.2" font-family='"Liberation Sans", sans-serif' fill="#111" stroke="#111" stroke-width="0.12">D11S4127 - normal DNA</text>
<rect x="397.6" y="222.4" width="21.0" height="9.400000000000006" fill="#f3f3f3" stroke="#3f9f3f" stroke-width="1"/>
<text x="408.10" y="229.70" font-size="7.6" font-family='"Liberation Sans", sans-serif' fill="#333" stroke="#333" stroke-width="0.25" text-anchor="middle" textLength="17.4" lengthAdjust="spacingAndGlyphs">86.8</text>
<rect x="512.2" y="222.4" width="20.199999999999932" height="9.400000000000006" fill="#f3f3f3" stroke="#3f9f3f" stroke-width="1"/>
<text x="522.30" y="229.70" font-size="7.6" font-family='"Liberation Sans", sans-serif' fill="#333" stroke="#333" stroke-width="0.25" text-anchor="middle" textLength="17.4" lengthAdjust="spacingAndGlyphs">92.7</text>
<rect x="401.3" y="236.6" width="9.199999999999989" height="65.6" fill="#e0e0e5"/>
<rect x="521.4" y="236.6" width="9.0" height="65.6" fill="#e0e0e5"/>
<line x1="301.1" y1="236.6" x2="566" y2="236.6" stroke="#222" stroke-width="1.3"/>
<line x1="301.1" y1="302.2" x2="566" y2="302.2" stroke="#333" stroke-width="1"/>
<line x1="476.7" y1="236.6" x2="476.7" y2="302.2" stroke="#222" stroke-width="1" stroke-dasharray="1.5,1.5"/>
<path d="M301.1,294.70 L301.4,294.70 L301.6,294.70 L301.9,294.70 L302.1,294.70 L302.4,294.70 L302.6,294.70 L302.9,294.70 L303.1,294.70 L303.4,294.70 L303.6,294.70 L303.9,294.70 L304.1,294.70 L304.4,294.70 L304.6,294.70 L304.9,294.70 L305.1,294.70 L305.4,294.70 L305.6,294.70 L305.9,294.70 L306.1,294.70 L306.4,294.70 L306.6,294.70 L306.9,294.70 L307.1,294.70 L307.4,294.70 L307.6,294.70 L307.9,294.70 L308.1,294.70 L308.4,294.70 L308.6,294.70 L308.9,294.70 L309.1,294.70 L309.4,294.70 L309.6,294.70 L309.9,294.70 L310.1,294.70 L310.4,294.69 L310.6,294.69 L310.9,294.69 L311.1,294.69 L311.4,294.69 L311.6,294.68 L311.9,294.68 L312.1,294.67 L312.4,294.67 L312.6,294.66 L312.9,294.65 L313.1,294.64 L313.4,294.62 L313.6,294.61 L313.9,294.59 L314.1,294.57 L314.4,294.54 L314.6,294.51 L314.9,294.48 L315.1,294.44 L315.4,294.40 L315.6,294.35 L315.9,294.29 L316.1,294.22 L316.4,294.15 L316.6,294.07 L316.9,293.98 L317.1,293.88 L317.4,293.76 L317.6,293.64 L317.9,293.50 L318.1,293.36 L318.4,293.20 L318.6,293.03 L318.9,292.84 L319.1,292.65 L319.4,292.44 L319.6,292.22 L319.9,291.99 L320.1,291.75 L320.4,291.50 L320.6,291.24 L320.9,290.98 L321.1,290.72 L321.4,290.45 L321.6,290.18 L321.9,289.91 L322.1,289.65 L322.4,289.39 L322.6,289.14 L322.9,288.91 L323.1,288.68 L323.4,288.47 L323.6,288.28 L323.9,288.11 L324.1,287.97 L324.4,287.84 L324.6,287.74 L324.9,287.67 L325.1,287.62 L325.4,287.60 L325.6,287.61 L325.9,287.64 L326.1,287.71 L326.4,287.80 L326.6,287.91 L326.9,288.05 L327.1,288.21 L327.4,288.40 L327.6,288.60 L327.9,288.81 L328.1,289.05 L328.4,289.29 L328.6,289.54 L328.9,289.81 L329.1,290.07 L329.4,290.34 L329.6,290.61 L329.9,290.88 L330.1,291.14 L330.4,291.40 L330.6,291.65 L330.9,291.89 L331.1,292.13 L331.4,292.35 L331.6,292.56 L331.9,292.77 L332.1,292.95 L332.4,293.13 L332.6,293.29 L332.9,293.45 L333.1,293.59 L333.4,293.71 L333.6,293.83 L333.9,293.94 L334.1,294.03 L334.4,294.12 L334.6,294.19 L334.9,294.26 L335.1,294.32 L335.4,294.38 L335.6,294.42 L335.9,294.46 L336.1,294.50 L336.4,294.52 L336.6,294.55 L336.9,294.57 L337.1,294.59 L337.4,294.60 L337.6,294.61 L337.9,294.61 L338.1,294.62 L338.4,294.62 L338.6,294.62 L338.9,294.61 L339.1,294.61 L339.4,294.60 L339.6,294.59 L339.9,294.58 L340.1,294.56 L340.4,294.54 L340.6,294.52 L340.9,294.50 L341.1,294.48 L341.4,294.46 L341.6,294.43 L341.9,294.41 L342.1,294.39 L342.4,294.36 L342.6,294.34 L342.9,294.31 L343.1,294.29 L343.4,294.27 L343.6,294.25 L343.9,294.24 L344.1,294.22 L344.4,294.21 L344.6,294.20 L344.9,294.20 L345.1,294.20 L345.4,294.20 L345.6,294.21 L345.9,294.22 L346.1,294.23 L346.4,294.25 L346.6,294.27 L346.9,294.29 L347.1,294.31 L347.4,294.33 L347.6,294.36 L347.9,294.38 L348.1,294.41 L348.4,294.43 L348.6,294.46 L348.9,294.48 L349.1,294.50 L349.4,294.52 L349.6,294.54 L349.9,294.56 L350.1,294.58 L350.4,294.59 L350.6,294.61 L350.9,294.62 L351.1,294.63 L351.4,294.63 L351.6,294.64 L351.9,294.64 L352.1,294.64 L352.4,294.64 L352.6,294.64 L352.9,294.63 L353.1,294.62 L353.4,294.60 L353.6,294.59 L353.9,294.56 L354.1,294.54 L354.4,294.50 L354.6,294.46 L354.9,294.42 L355.1,294.36 L355.4,294.29 L355.6,294.21 L355.9,294.12 L356.1,294.02 L356.4,293.90 L356.6,293.76 L356.9,293.60 L357.1,293.42 L357.4,293.21 L357.6,292.99 L357.9,292.73 L358.1,292.44 L358.4,292.13 L358.6,291.78 L358.9,291.40 L359.1,290.98 L359.4,290.53 L359.6,290.04 L359.9,289.52 L360.1,288.96 L360.4,288.37 L360.6,287.74 L360.9,287.09 L361.1,286.41 L361.4,285.70 L361.6,284.97 L361.9,284.23 L362.1,283.48 L362.4,282.72 L362.6,281.96 L362.9,281.22 L363.1,280.48 L363.4,279.77 L363.6,279.09 L363.9,278.44 L364.1,277.83 L364.4,277.27 L364.6,276.77 L364.9,276.33 L365.1,275.96 L365.4,275.66 L365.6,275.43 L365.9,275.28 L366.1,275.21 L366.4,275.21 L366.6,275.30 L366.9,275.47 L367.1,275.71 L367.4,276.03 L367.6,276.42 L367.9,276.87 L368.1,277.38 L368.4,277.95 L368.6,278.56 L368.9,279.22 L369.1,279.91 L369.4,280.63 L369.6,281.36 L369.9,282.12 L370.1,282.87 L370.4,283.63 L370.6,284.38 L370.9,285.12 L371.1,285.84 L371.4,286.55 L371.6,287.22 L371.9,287.87 L372.1,288.49 L372.4,289.08 L372.6,289.63 L372.9,290.14 L373.1,290.62 L373.4,291.07 L373.6,291.48 L373.9,291.85 L374.1,292.19 L374.4,292.50 L374.6,292.78 L374.9,293.03 L375.1,293.26 L375.4,293.46 L375.6,293.63 L375.9,293.79 L376.1,293.92 L376.4,294.04 L376.6,294.14 L376.9,294.23 L377.1,294.31 L377.4,294.37 L377.6,294.43 L377.9,294.47 L378.1,294.51 L378.4,294.55 L378.6,294.58 L378.9,294.60 L379.1,294.62 L379.4,294.63 L379.6,294.65 L379.9,294.66 L380.1,294.67 L380.4,294.67 L380.6,294.68 L380.9,294.68 L381.1,294.69 L381.4,294.69 L381.6,294.69 L381.9,294.69 L382.1,294.70 L382.4,294.70 L382.6,294.70 L382.9,294.70 L383.1,294.70 L383.4,294.70 L383.6,294.70 L383.9,294.70 L384.1,294.70 L384.4,294.70 L384.6,294.70 L384.9,294.70 L385.1,294.70 L385.4,294.70 L385.6,294.70 L385.9,294.70 L386.1,294.70 L386.4,294.70 L386.6,294.70 L386.9,294.70 L387.1,294.70 L387.4,294.70 L387.6,294.70 L387.9,294.70 L388.1,294.70 L388.4,294.70 L388.6,294.70 L388.9,294.70 L389.1,294.70 L389.4,294.70 L389.6,294.70 L389.9,294.69 L390.1,294.69 L390.4,294.69 L390.6,294.69 L390.9,294.68 L391.1,294.68 L391.4,294.67 L391.6,294.67 L391.9,294.66 L392.1,294.65 L392.4,294.63 L392.6,294.61 L392.9,294.59 L393.1,294.57 L393.4,294.54 L393.6,294.50 L393.9,294.45 L394.1,294.39 L394.4,294.32 L394.6,294.24 L394.9,294.15 L395.1,294.03 L395.4,293.90 L395.6,293.74 L395.9,293.55 L396.1,293.34 L396.4,293.09 L396.6,292.81 L396.9,292.48 L397.1,292.11 L397.4,291.69 L397.6,291.21 L397.9,290.68 L398.1,290.08 L398.4,289.41 L398.6,288.68 L398.9,287.87 L399.1,286.98 L399.4,286.01 L399.6,284.97 L399.9,283.84 L400.1,282.63 L400.4,281.34 L400.6,279.97 L400.9,278.53 L401.1,277.03 L401.4,275.46 L401.6,273.83 L401.9,272.17 L402.1,270.47 L402.4,268.75 L402.6,267.02 L402.9,265.29 L403.1,263.59 L403.4,261.92 L403.6,260.31 L403.9,258.76 L404.1,257.30 L404.4,255.94 L404.6,254.70 L404.9,253.58 L405.1,252.60 L405.4,251.78 L405.6,251.13 L405.9,250.64 L406.1,250.33 L406.4,250.20 L406.6,250.26 L406.9,250.50 L407.1,250.91 L407.4,251.50 L407.6,252.26 L407.9,253.17 L408.1,254.23 L408.4,255.43 L408.6,256.75 L408.9,258.17 L409.1,259.68 L409.4,261.27 L409.6,262.92 L409.9,264.61 L410.1,266.33 L410.4,268.06 L410.6,269.78 L410.9,271.49 L411.1,273.17 L411.4,274.81 L411.6,276.41 L411.9,277.94 L412.1,279.41 L412.4,280.80 L412.6,282.12 L412.9,283.37 L413.1,284.53 L413.4,285.61 L413.6,286.60 L413.9,287.52 L414.1,288.36 L414.4,289.13 L414.6,289.82 L414.9,290.44 L415.1,291.00 L415.4,291.50 L415.6,291.95 L415.9,292.34 L416.1,292.68 L416.4,292.98 L416.6,293.24 L416.9,293.47 L417.1,293.67 L417.4,293.84 L417.6,293.98 L417.9,294.10 L418.1,294.21 L418.4,294.29 L418.6,294.37 L418.9,294.43 L419.1,294.48 L419.4,294.52 L419.6,294.56 L419.9,294.58 L420.1,294.61 L420.4,294.63 L420.6,294.64 L420.9,294.65 L421.1,294.66 L421.4,294.67 L421.6,294.68 L421.9,294.68 L422.1,294.69 L422.4,294.69 L422.6,294.69 L422.9,294.69 L423.1,294.70 L423.4,294.70 L423.6,294.70 L423.9,294.70 L424.1,294.70 L424.4,294.70 L424.6,294.70 L424.9,294.70 L425.1,294.70 L425.4,294.70 L425.6,294.70 L425.9,294.70 L426.1,294.70 L426.4,294.70 L426.6,294.70 L426.9,294.70 L427.1,294.70 L427.4,294.70 L427.6,294.70 L427.9,294.70 L428.1,294.70 L428.4,294.70 L428.6,294.70 L428.9,294.70 L429.1,294.70 L429.4,294.70 L429.6,294.70 L429.9,294.70 L430.1,294.70 L430.4,294.70 L430.6,294.70 L430.9,294.70 L431.1,294.70 L431.4,294.70 L431.6,294.70 L431.9,294.69 L432.1,294.69 L432.4,294.69 L432.6,294.69 L432.9,294.69 L433.1,294.68 L433.4,294.68 L433.6,294.67 L433.9,294.67 L434.1,294.66 L434.4,294.65 L434.6,294.64 L434.9,294.63 L435.1,294.61 L435.4,294.60 L435.6,294.57 L435.9,294.55 L436.1,294.52 L436.4,294.49 L436.6,294.45 L436.9,294.41 L437.1,294.36 L437.4,294.30 L437.6,294.24 L437.9,294.16 L438.1,294.08 L438.4,293.99 L438.6,293.88 L438.9,293.77 L439.1,293.64 L439.4,293.51 L439.6,293.36 L439.9,293.19 L440.1,293.01 L440.4,292.82 L440.6,292.62 L440.9,292.40 L441.1,292.17 L441.4,291.92 L441.6,291.67 L441.9,291.40 L442.1,291.13 L442.4,290.85 L442.6,290.56 L442.9,290.26 L443.1,289.97 L443.4,289.67 L443.6,289.38 L443.9,289.09 L444.1,288.81 L444.4,288.54 L444.6,288.28 L444.9,288.04 L445.1,287.82 L445.4,287.61 L445.6,287.43 L445.9,287.27 L446.1,287.14 L446.4,287.04 L446.6,286.96 L446.9,286.92 L447.1,286.90 L447.4,286.92 L447.6,286.96 L447.9,287.04 L448.1,287.14 L448.4,287.27 L448.6,287.43 L448.9,287.61 L449.1,287.82 L449.4,288.04 L449.6,288.28 L449.9,288.54 L450.1,288.81 L450.4,289.09 L450.6,289.38 L450.9,289.67 L451.1,289.97 L451.4,290.26 L451.6,290.56 L451.9,290.85 L452.1,291.13 L452.4,291.40 L452.6,291.67 L452.9,291.92 L453.1,292.17 L453.4,292.40 L453.6,292.62 L453.9,292.82 L454.1,293.01 L454.4,293.19 L454.6,293.36 L454.9,293.51 L455.1,293.64 L455.4,293.77 L455.6,293.88 L455.9,293.99 L456.1,294.08 L456.4,294.16 L456.6,294.24 L456.9,294.30 L457.1,294.36 L457.4,294.41 L457.6,294.45 L457.9,294.49 L458.1,294.52 L458.4,294.55 L458.6,294.57 L458.9,294.60 L459.1,294.61 L459.4,294.63 L459.6,294.64 L459.9,294.65 L460.1,294.66 L460.4,294.67 L460.6,294.67 L460.9,294.68 L461.1,294.68 L461.4,294.69 L461.6,294.69 L461.9,294.69 L462.1,294.69 L462.4,294.69 L462.6,294.70 L462.9,294.70 L463.1,294.70 L463.4,294.70 L463.6,294.70 L463.9,294.70 L464.1,294.70 L464.4,294.70 L464.6,294.70 L464.9,294.70 L465.1,294.70 L465.4,294.70 L465.6,294.70 L465.9,294.70 L466.1,294.70 L466.4,294.70 L466.6,294.70 L466.9,294.70 L467.1,294.70 L467.4,294.70 L467.6,294.70 L467.9,294.70 L468.1,294.70 L468.4,294.70 L468.6,294.70 L468.9,294.70 L469.1,294.70 L469.4,294.70 L469.6,294.70 L469.9,294.70 L470.1,294.70 L470.4,294.70 L470.6,294.70 L470.9,294.70 L471.1,294.70 L471.4,294.70 L471.6,294.69 L471.9,294.69 L472.1,294.69 L472.4,294.69 L472.6,294.68 L472.9,294.68 L473.1,294.67 L473.4,294.67 L473.6,294.66 L473.9,294.65 L474.1,294.64 L474.4,294.62 L474.6,294.60 L474.9,294.58 L475.1,294.55 L475.4,294.52 L475.6,294.48 L475.9,294.44 L476.1,294.39 L476.4,294.32 L476.6,294.25 L476.9,294.17 L477.1,294.07 L477.4,293.96 L477.6,293.84 L477.9,293.69 L478.1,293.53 L478.4,293.34 L478.6,293.14 L478.9,292.91 L479.1,292.65 L479.4,292.37 L479.6,292.06 L479.9,291.72 L480.1,291.34 L480.4,290.94 L480.6,290.51 L480.9,290.05 L481.1,289.56 L481.4,289.03 L481.6,288.48 L481.9,287.91 L482.1,287.31 L482.4,286.70 L482.6,286.07 L482.9,285.42 L483.1,284.77 L483.4,284.12 L483.6,283.47 L483.9,282.83 L484.1,282.20 L484.4,281.60 L484.6,281.02 L484.9,280.48 L485.1,279.97 L485.4,279.51 L485.6,279.10 L485.9,278.74 L486.1,278.44 L486.4,278.21 L486.6,278.04 L486.9,277.93 L487.1,277.90 L487.4,277.93 L487.6,278.04 L487.9,278.21 L488.1,278.44 L488.4,278.74 L488.6,279.10 L488.9,279.51 L489.1,279.97 L489.4,280.48 L489.6,281.02 L489.9,281.60 L490.1,282.20 L490.4,282.83 L490.6,283.47 L490.9,284.12 L491.1,284.77 L491.4,285.42 L491.6,286.07 L491.9,286.70 L492.1,287.31 L492.4,287.91 L492.6,288.48 L492.9,289.03 L493.1,289.56 L493.4,290.05 L493.6,290.51 L493.9,290.94 L494.1,291.34 L494.4,291.72 L494.6,292.06 L494.9,292.37 L495.1,292.65 L495.4,292.91 L495.6,293.14 L495.9,293.34 L496.1,293.53 L496.4,293.69 L496.6,293.84 L496.9,293.96 L497.1,294.07 L497.4,294.17 L497.6,294.25 L497.9,294.32 L498.1,294.39 L498.4,294.44 L498.6,294.48 L498.9,294.52 L499.1,294.55 L499.4,294.58 L499.6,294.60 L499.9,294.62 L500.1,294.64 L500.4,294.65 L500.6,294.66 L500.9,294.67 L501.1,294.67 L501.4,294.68 L501.6,294.68 L501.9,294.69 L502.1,294.69 L502.4,294.69 L502.6,294.69 L502.9,294.70 L503.1,294.70 L503.4,294.70 L503.6,294.70 L503.9,294.70 L504.1,294.70 L504.4,294.70 L504.6,294.70 L504.9,294.70 L505.1,294.70 L505.4,294.70 L505.6,294.70 L505.9,294.70 L506.1,294.70 L506.4,294.70 L506.6,294.70 L506.9,294.70 L507.1,294.70 L507.4,294.70 L507.6,294.70 L507.9,294.70 L508.1,294.70 L508.4,294.70 L508.6,294.70 L508.9,294.70 L509.1,294.70 L509.4,294.70 L509.6,294.70 L509.9,294.70 L510.1,294.69 L510.4,294.69 L510.6,294.69 L510.9,294.69 L511.1,294.69 L511.4,294.68 L511.6,294.68 L511.9,294.67 L512.1,294.66 L512.4,294.65 L512.6,294.64 L512.9,294.63 L513.1,294.61 L513.4,294.59 L513.6,294.56 L513.9,294.53 L514.1,294.49 L514.4,294.44 L514.6,294.38 L514.9,294.32 L515.1,294.24 L515.4,294.15 L515.6,294.04 L515.9,293.92 L516.1,293.77 L516.4,293.60 L516.6,293.41 L516.9,293.19 L517.1,292.94 L517.4,292.66 L517.6,292.34 L517.9,291.98 L518.1,291.59 L518.4,291.14 L518.6,290.66 L518.9,290.12 L519.1,289.53 L519.4,288.90 L519.6,288.21 L519.9,287.47 L520.1,286.67 L520.4,285.83 L520.6,284.94 L520.9,284.00 L521.1,283.02 L521.4,282.01 L521.6,280.96 L521.9,279.89 L522.1,278.80 L522.4,277.70 L522.6,276.59 L522.9,275.50 L523.1,274.42 L523.4,273.37 L523.6,272.35 L523.9,271.39 L524.1,270.48 L524.4,269.64 L524.6,268.87 L524.9,268.20 L525.1,267.61 L525.4,267.13 L525.6,266.75 L525.9,266.49 L526.1,266.34 L526.4,266.30 L526.6,266.38 L526.9,266.58 L527.1,266.89 L527.4,267.31 L527.6,267.83 L527.9,268.46 L528.1,269.17 L528.4,269.96 L528.6,270.83 L528.9,271.77 L529.1,272.75 L529.4,273.78 L529.6,274.85 L529.9,275.93 L530.1,277.03 L530.4,278.14 L530.6,279.24 L530.9,280.32 L531.1,281.38 L531.4,282.42 L531.6,283.42 L531.9,284.38 L532.1,285.30 L532.4,286.17 L532.6,287.00 L532.9,287.77 L533.1,288.49 L533.4,289.16 L533.6,289.77 L533.9,290.34 L534.1,290.86 L534.4,291.33 L534.6,291.75 L534.9,292.13 L535.1,292.47 L535.4,292.78 L535.6,293.05 L535.9,293.28 L536.1,293.49 L536.4,293.67 L536.6,293.83 L536.9,293.97 L537.1,294.09 L537.4,294.19 L537.6,294.27 L537.9,294.35 L538.1,294.41 L538.4,294.46 L538.6,294.50 L538.9,294.54 L539.1,294.57 L539.4,294.59 L539.6,294.62 L539.9,294.63 L540.1,294.65 L540.4,294.66 L540.6,294.67 L540.9,294.67 L541.1,294.68 L541.4,294.68 L541.6,294.69 L541.9,294.69 L542.1,294.69 L542.4,294.69 L542.6,294.70 L542.9,294.70 L543.1,294.70 L543.4,294.70 L543.6,294.70 L543.9,294.70 L544.1,294.70 L544.4,294.70 L544.6,294.70 L544.9,294.70 L545.1,294.70 L545.4,294.70 L545.6,294.70 L545.9,294.70 L546.1,294.70 L546.4,294.70 L546.6,294.70 L546.9,294.70 L547.1,294.70 L547.4,294.70 L547.6,294.70 L547.9,294.70 L548.1,294.70 L548.4,294.70 L548.6,294.70 L548.9,294.70 L549.1,294.70 L549.4,294.70 L549.6,294.70 L549.9,294.70 L550.1,294.70 L550.4,294.70 L550.6,294.70 L550.9,294.70 L551.1,294.70 L551.4,294.70 L551.6,294.70 L551.9,294.70 L552.1,294.70 L552.4,294.70 L552.6,294.70 L552.9,294.70 L553.1,294.70 L553.4,294.70 L553.6,294.70 L553.9,294.69 L554.1,294.69 L554.4,294.69 L554.6,294.69 L554.9,294.69 L555.1,294.69 L555.4,294.68 L555.6,294.68 L555.9,294.67 L556.1,294.67 L556.4,294.66 L556.6,294.65 L556.9,294.64 L557.1,294.63 L557.4,294.62 L557.6,294.61 L557.9,294.59 L558.1,294.57 L558.4,294.55 L558.6,294.53 L558.9,294.50 L559.1,294.47 L559.4,294.44 L559.6,294.40 L559.9,294.36 L560.1,294.32 L560.4,294.27 L560.6,294.21 L560.9,294.15 L561.1,294.09 L561.4,294.02 L561.6,293.95 L561.9,293.87 L562.1,293.79 L562.4,293.70 L562.6,293.61 L562.9,293.52 L563.1,293.43 L563.4,293.33 L563.6,293.23 L563.9,293.12 L564.1,293.02 L564.4,292.92 L564.6,292.82 L564.9,292.72 L565.1,292.62 L565.4,292.53 L565.6,292.44 L565.9,292.36 L566.1,292.29" fill="none" stroke="#45a545" stroke-width="1"/>
<text transform="translate(423.2,254.8) scale(1.07,1)" font-size="10.2" font-family='"Liberation Sans", sans-serif' fill="#111" stroke="#111" stroke-width="0.12">D11S4127 - tumor DNA</text>
<rect x="395.6" y="303.7" width="20.5" height="9.100000000000023" fill="#f3f3f3" stroke="#3f9f3f" stroke-width="1"/>
<text x="405.85" y="311.00" font-size="7.6" font-family='"Liberation Sans", sans-serif' fill="#333" stroke="#333" stroke-width="0.25" text-anchor="middle" textLength="17.4" lengthAdjust="spacingAndGlyphs">86.7</text>
<rect x="515.4" y="303.7" width="20.700000000000045" height="8.100000000000023" fill="#f3f3f3" stroke="#3f9f3f" stroke-width="1"/>
<text x="525.75" y="311.00" font-size="7.6" font-family='"Liberation Sans", sans-serif' fill="#333" stroke="#333" stroke-width="0.25" text-anchor="middle" textLength="17.4" lengthAdjust="spacingAndGlyphs">92.6</text>
<text x="75.6" y="153.6" font-size="7" font-family='"Liberation Sans", sans-serif' fill="#222" text-anchor="middle">120</text>
<text x="137.6" y="153.6" font-size="7" font-family='"Liberation Sans", sans-serif' fill="#222" text-anchor="middle">125</text>
<text x="200.7" y="153.6" font-size="7" font-family='"Liberation Sans", sans-serif' fill="#222" text-anchor="middle">130</text>
<text x="262.5" y="153.6" font-size="7" font-family='"Liberation Sans", sans-serif' fill="#222" text-anchor="middle">135</text>
<text x="373.4" y="153.6" font-size="7" font-family='"Liberation Sans", sans-serif' fill="#222" text-anchor="middle">85</text>
<text x="469.5" y="153.6" font-size="7" font-family='"Liberation Sans", sans-serif' fill="#222" text-anchor="middle">90</text>
<path d="M92.2,249 L97.2,249 L97.2,259.6 L101.0,259.6 L94.7,270.8 L88.4,259.6 L92.2,259.6 Z" fill="#6d6d6d"/>
<path d="M520.5999999999999,177.4 L525.0,177.4 L525.0,188.0 L529.0999999999999,188.0 L522.8,200.1 L516.5,188.0 L520.5999999999999,188.0 Z" fill="#6d6d6d"/>
<text transform="translate(-0.6,326.8) scale(1.04,1)" font-size="20.5" font-family='"Liberation Sans", sans-serif' fill="#111" stroke="#111" stroke-width="0.3">c</text>
<defs>
<linearGradient id="cg" x1="0" x2="1" y1="0" y2="0">
<stop offset="0" stop-color="#8a8a8a"/><stop offset="0.12" stop-color="#b8b8b8"/><stop offset="0.4" stop-color="#ffffff"/><stop offset="0.55" stop-color="#f4f4f4"/><stop offset="0.85" stop-color="#b0b0b0"/><stop offset="1" stop-color="#808080"/>
</linearGradient>
<linearGradient id="gg" x1="0" x2="1" y1="0" y2="0">
<stop offset="0" stop-color="#0b8a6a"/><stop offset="0.35" stop-color="#14aa86"/><stop offset="0.6" stop-color="#11a280"/><stop offset="1" stop-color="#0a8265"/>
</linearGradient>
</defs>
<rect x="66.2" y="410" width="13.6" height="14" fill="url(#cg)" stroke="#8a8a8a" stroke-width="0.8"/>
<rect x="60.5" y="332.6" width="24.5" height="81.8" rx="4.5" fill="url(#cg)" stroke="#7a7a7a" stroke-width="1"/>
<rect x="60.3" y="421.2" width="24.7" height="129.4" rx="4.5" fill="url(#cg)" stroke="#7a7a7a" stroke-width="1"/>
<defs><linearGradient id="tsh" x1="0" x2="0" y1="0" y2="1"><stop offset="0" stop-color="#6a6a6a" stop-opacity="0.75"/><stop offset="1" stop-color="#8a8a8a" stop-opacity="0"/></linearGradient>
<linearGradient id="bsh" x1="0" x2="0" y1="1" y2="0"><stop offset="0" stop-color="#6a6a6a" stop-opacity="0.7"/><stop offset="1" stop-color="#8a8a8a" stop-opacity="0"/></linearGradient>
<clipPath id="cu"><rect x="60.5" y="332.6" width="24.5" height="81.8" rx="4.5"/></clipPath>
<clipPath id="cl"><rect x="60.3" y="421.2" width="24.7" height="129.4" rx="4.5"/></clipPath></defs>
<rect x="60" y="332.6" width="26" height="4.2" fill="url(#tsh)" clip-path="url(#cu)"/>
<rect x="60" y="410.6" width="26" height="3.8" fill="url(#bsh)" clip-path="url(#cu)"/>
<rect x="60" y="421.2" width="26" height="3.5" fill="url(#tsh)" clip-path="url(#cl)"/>
<rect x="60" y="546.8" width="26" height="3.8" fill="url(#bsh)" clip-path="url(#cl)"/>
<rect x="61.2" y="367" width="23" height="14.399999999999977" fill="url(#gg)"/>
<rect x="61.2" y="391.6" width="23" height="6.2999999999999545" fill="url(#gg)"/>
<rect x="61.2" y="424.4" width="23" height="11.800000000000011" fill="url(#gg)"/>
<rect x="61.2" y="468.9" width="23" height="14.700000000000045" fill="url(#gg)"/>
<rect x="61.2" y="488.1" width="23" height="15.099999999999966" fill="url(#gg)"/>
<rect x="61.2" y="532" width="23" height="10.5" fill="url(#gg)"/>
<text x="73" y="572.2" font-size="12.5" font-weight="bold" font-family='"Liberation Sans", sans-serif' fill="#111" text-anchor="middle">Chr11</text>
<rect x="167.8" y="515.5" width="352.7" height="42" fill="#f1f1f1"/>
<rect x="171.3" y="534.3" width="75.3" height="19.4" fill="#c3c3c3" stroke="#8c8c8c" stroke-width="1"/>
<text transform="translate(252.5,549.1) scale(1.03,1)" font-size="13.2" font-family='"Liberation Sans", sans-serif' fill="#2a2a2a">= allele lost</text>
<rect x="171.7" y="364.2" width="344.8" height="151.3" fill="#fff"/>
<rect x="317.7" y="364.2" width="68.0" height="18.69999999999999" fill="#c3c3c3"/>
<rect x="317.7" y="382.9" width="68.0" height="18.100000000000023" fill="#c3c3c3"/>
<rect x="317.7" y="401.0" width="68.0" height="19.0" fill="#c3c3c3"/>
<rect x="385.7" y="420.0" width="63.900000000000034" height="18.80000000000001" fill="#c3c3c3"/>
<rect x="385.7" y="438.8" width="63.900000000000034" height="19.0" fill="#c3c3c3"/>
<rect x="385.7" y="478.7" width="63.900000000000034" height="18.19999999999999" fill="#c3c3c3"/>
<rect x="385.7" y="496.9" width="63.900000000000034" height="18.600000000000023" fill="#c3c3c3"/>
<rect x="171.7" y="457.8" width="146.0" height="20.899999999999977" fill="#6f6f6f"/>
<rect x="385.7" y="457.8" width="63.900000000000034" height="20.899999999999977" fill="#7a7a7a"/>
<line x1="171.7" y1="364.2" x2="516.5" y2="364.2" stroke="#8a8a8a" stroke-width="1"/>
<line x1="171.7" y1="382.9" x2="516.5" y2="382.9" stroke="#e6e6e6" stroke-width="1"/>
<line x1="171.7" y1="401.0" x2="516.5" y2="401.0" stroke="#a0a0a0" stroke-width="1"/>
<line x1="171.7" y1="420.0" x2="516.5" y2="420.0" stroke="#e6e6e6" stroke-width="1"/>
<line x1="171.7" y1="438.8" x2="516.5" y2="438.8" stroke="#a0a0a0" stroke-width="1"/>
<line x1="171.7" y1="457.8" x2="516.5" y2="457.8" stroke="#333" stroke-width="1.4"/>
<line x1="171.7" y1="478.7" x2="516.5" y2="478.7" stroke="#444" stroke-width="1.4"/>
<line x1="171.7" y1="496.9" x2="516.5" y2="496.9" stroke="#e6e6e6" stroke-width="1"/>
<line x1="171.7" y1="515.5" x2="516.5" y2="515.5" stroke="#6a6a6a" stroke-width="1"/>
<line x1="171.7" y1="364.2" x2="171.7" y2="515.5" stroke="#8a8a8a" stroke-width="1"/>
<line x1="246.4" y1="364.2" x2="246.4" y2="515.5" stroke="#8a8a8a" stroke-width="1"/>
<line x1="317.7" y1="326.2" x2="317.7" y2="515.5" stroke="#8a8a8a" stroke-width="1"/>
<line x1="385.7" y1="345.3" x2="385.7" y2="515.5" stroke="#8a8a8a" stroke-width="1"/>
<line x1="449.6" y1="345.3" x2="449.6" y2="515.5" stroke="#8a8a8a" stroke-width="1"/>
<line x1="516.5" y1="326.2" x2="516.5" y2="515.5" stroke="#8a8a8a" stroke-width="1"/>
<line x1="317.7" y1="326.2" x2="516.5" y2="326.2" stroke="#b0b0b0" stroke-width="1"/>
<line x1="317.7" y1="345.3" x2="516.5" y2="345.3" stroke="#b0b0b0" stroke-width="1"/>
<text transform="translate(417.10,341.20) scale(0.94,1)" font-size="13" font-family='"Liberation Sans", sans-serif' fill="#111" text-anchor="middle">DNA_pat1</text>
<text transform="translate(208.55,359.80) scale(0.94,1)" font-size="13" font-family='"Liberation Sans", sans-serif' fill="#111" text-anchor="middle">Marker</text>
<text transform="translate(282.05,359.80) scale(0.94,1)" font-size="13" font-family='"Liberation Sans", sans-serif' fill="#111" text-anchor="middle">Location</text>
<text transform="translate(351.70,359.50) scale(0.94,1)" font-size="13" font-family='"Liberation Sans", sans-serif' fill="#111" text-anchor="middle" font-weight="bold">M</text>
<text transform="translate(417.65,359.50) scale(0.94,1)" font-size="13" font-family='"Liberation Sans", sans-serif' fill="#111" text-anchor="middle" font-weight="bold">P</text>
<text transform="translate(483.05,359.50) scale(0.94,1)" font-size="13" font-family='"Liberation Sans", sans-serif' fill="#111" text-anchor="middle">AIR</text>
<text transform="translate(209.05,378.80) scale(0.94,1)" font-size="13" font-family='"Liberation Sans", sans-serif' fill="#111" text-anchor="middle">D11S4177</text>
<text transform="translate(282.05,378.80) scale(0.94,1)" font-size="13" font-family='"Liberation Sans", sans-serif' fill="#111" text-anchor="middle">1443978</text>
<text transform="translate(351.70,378.80) scale(0.94,1)" font-size="13" font-family='"Liberation Sans", sans-serif' fill="#111" text-anchor="middle">181</text>
<text transform="translate(417.65,378.80) scale(0.94,1)" font-size="13" font-family='"Liberation Sans", sans-serif' fill="#111" text-anchor="middle">202</text>
<text transform="translate(483.05,378.80) scale(0.94,1)" font-size="13" font-family='"Liberation Sans", sans-serif' fill="#111" text-anchor="middle">0.68</text>
<text transform="translate(209.05,397.50) scale(0.94,1)" font-size="13" font-family='"Liberation Sans", sans-serif' fill="#111" text-anchor="middle">D11S4154</text>
<text transform="translate(282.05,397.50) scale(0.94,1)" font-size="13" font-family='"Liberation Sans", sans-serif' fill="#111" text-anchor="middle">30632100</text>
<text transform="translate(351.70,397.50) scale(0.94,1)" font-size="13" font-family='"Liberation Sans", sans-serif' fill="#111" text-anchor="middle">151</text>
<text transform="translate(417.65,397.50) scale(0.94,1)" font-size="13" font-family='"Liberation Sans", sans-serif' fill="#111" text-anchor="middle">141</text>
<text transform="translate(483.05,397.50) scale(0.94,1)" font-size="13" font-family='"Liberation Sans", sans-serif' fill="#111" text-anchor="middle">0.29</text>
<text transform="translate(209.05,415.60) scale(0.94,1)" font-size="13" font-family='"Liberation Sans", sans-serif' fill="#111" text-anchor="middle">D11S4147</text>
<text transform="translate(282.05,415.60) scale(0.94,1)" font-size="13" font-family='"Liberation Sans", sans-serif' fill="#111" text-anchor="middle">84207670</text>
<text transform="translate(351.70,415.60) scale(0.94,1)" font-size="13" font-family='"Liberation Sans", sans-serif' fill="#111" text-anchor="middle">236</text>
<text transform="translate(417.65,415.60) scale(0.94,1)" font-size="13" font-family='"Liberation Sans", sans-serif' fill="#111" text-anchor="middle">238</text>
<text transform="translate(483.05,415.60) scale(0.94,1)" font-size="13" font-family='"Liberation Sans", sans-serif' fill="#111" text-anchor="middle">0.55</text>
<text transform="translate(209.05,434.60) scale(0.94,1)" font-size="13" font-family='"Liberation Sans", sans-serif' fill="#111" text-anchor="middle">D11S4197</text>
<text transform="translate(282.05,434.60) scale(0.94,1)" font-size="13" font-family='"Liberation Sans", sans-serif' fill="#111" text-anchor="middle">85646762</text>
<text transform="translate(351.70,434.60) scale(0.94,1)" font-size="13" font-family='"Liberation Sans", sans-serif' fill="#111" text-anchor="middle">264</text>
<text transform="translate(417.65,434.60) scale(0.94,1)" font-size="13" font-family='"Liberation Sans", sans-serif' fill="#111" text-anchor="middle">254</text>
<text transform="translate(483.05,434.60) scale(0.94,1)" font-size="13" font-family='"Liberation Sans", sans-serif' fill="#111" text-anchor="middle">0.50</text>
<text transform="translate(209.05,453.40) scale(0.94,1)" font-size="13" font-family='"Liberation Sans", sans-serif' fill="#111" text-anchor="middle">D11S1793</text>
<text transform="translate(282.05,453.40) scale(0.94,1)" font-size="13" font-family='"Liberation Sans", sans-serif' fill="#111" text-anchor="middle">110413471</text>
<text transform="translate(351.70,453.40) scale(0.94,1)" font-size="13" font-family='"Liberation Sans", sans-serif' fill="#111" text-anchor="middle">134</text>
<text transform="translate(417.65,453.40) scale(0.94,1)" font-size="13" font-family='"Liberation Sans", sans-serif' fill="#111" text-anchor="middle">122</text>
<text transform="translate(483.05,453.40) scale(0.94,1)" font-size="13" font-family='"Liberation Sans", sans-serif' fill="#111" text-anchor="middle">0.50</text>
<text transform="translate(209.05,472.40) scale(0.94,1)" font-size="13" font-family='"Liberation Sans", sans-serif' fill="#f4f4f4" text-anchor="middle" font-weight="bold">SDHD</text>
<text transform="translate(282.05,472.40) scale(0.94,1)" font-size="13" font-family='"Liberation Sans", sans-serif' fill="#f2f2f2" text-anchor="middle">111462832</text>
<text transform="translate(351.70,472.40) scale(0.94,1)" font-size="13" font-family='"Liberation Sans", sans-serif' fill="#111" text-anchor="middle" font-weight="bold">Mut</text>
<text transform="translate(417.65,472.40) scale(0.94,1)" font-size="13" font-family='"Liberation Sans", sans-serif' fill="#1a1a1a" text-anchor="middle">WT</text>
<text transform="translate(209.05,493.30) scale(0.94,1)" font-size="13" font-family='"Liberation Sans", sans-serif' fill="#111" text-anchor="middle">D11S4090</text>
<text transform="translate(282.05,493.30) scale(0.94,1)" font-size="13" font-family='"Liberation Sans", sans-serif' fill="#111" text-anchor="middle">112586459</text>
<text transform="translate(351.70,493.30) scale(0.94,1)" font-size="13" font-family='"Liberation Sans", sans-serif' fill="#111" text-anchor="middle">183</text>
<text transform="translate(417.65,493.30) scale(0.94,1)" font-size="13" font-family='"Liberation Sans", sans-serif' fill="#111" text-anchor="middle">181</text>
<text transform="translate(483.05,493.30) scale(0.94,1)" font-size="13" font-family='"Liberation Sans", sans-serif' fill="#111" text-anchor="middle">0.62</text>
<text transform="translate(209.05,511.50) scale(0.94,1)" font-size="13" font-family='"Liberation Sans", sans-serif' fill="#111" text-anchor="middle">D11S4127</text>
<text transform="translate(282.05,511.50) scale(0.94,1)" font-size="13" font-family='"Liberation Sans", sans-serif' fill="#111" text-anchor="middle">117181769</text>
<text transform="translate(351.70,511.50) scale(0.94,1)" font-size="13" font-family='"Liberation Sans", sans-serif' fill="#111" text-anchor="middle">87</text>
<text transform="translate(417.65,511.50) scale(0.94,1)" font-size="13" font-family='"Liberation Sans", sans-serif' fill="#111" text-anchor="middle">93</text>
<text transform="translate(483.05,511.50) scale(0.94,1)" font-size="13" font-family='"Liberation Sans", sans-serif' fill="#111" text-anchor="middle">0.36</text>
<line x1="173" y1="372.7" x2="101.62929182486808" y2="351.55642770311715" stroke="#000" stroke-width="3.1"/>
<path d="M93.00,349.00 L103.89,347.43 L100.67,351.27 L101.28,356.25 Z" fill="#000"/>
<line x1="165.3" y1="388.7" x2="101.80004356693428" y2="375.08659301919056" stroke="#000" stroke-width="3.1"/>
<path d="M93.00,373.20 L103.74,370.80 L100.82,374.88 L101.81,379.79 Z" fill="#000"/>
<line x1="165.3" y1="413.5" x2="100.64950312442024" y2="462.93331864163406" stroke="#000" stroke-width="3.1"/>
<path d="M93.50,468.40 L98.65,458.67 L99.86,463.54 L104.24,465.98 Z" fill="#000"/>
<line x1="165.3" y1="429.4" x2="100.3509092546618" y2="479.03515811467594" stroke="#000" stroke-width="3.1"/>
<path d="M93.20,484.50 L98.35,474.77 L99.56,479.64 L103.94,482.08 Z" fill="#000"/>
<line x1="165.6" y1="445.5" x2="99.9801470566651" y2="502.78141859141937" stroke="#000" stroke-width="3.1"/>
<path d="M93.20,508.70 L97.71,498.66 L99.23,503.44 L103.76,505.59 Z" fill="#000"/>
<line x1="165.6" y1="484.9" x2="101.08686298555625" y2="520.3644040493766" stroke="#000" stroke-width="3.1"/>
<path d="M93.20,524.70 L99.75,515.85 L100.21,520.85 L104.18,523.91 Z" fill="#000"/>
<line x1="165.6" y1="502" x2="101.13266809745721" y2="536.548791130092" stroke="#000" stroke-width="3.1"/>
<path d="M93.20,540.80 L99.84,532.02 L100.25,537.02 L104.19,540.13 Z" fill="#000"/>
</svg>
</body></html>
